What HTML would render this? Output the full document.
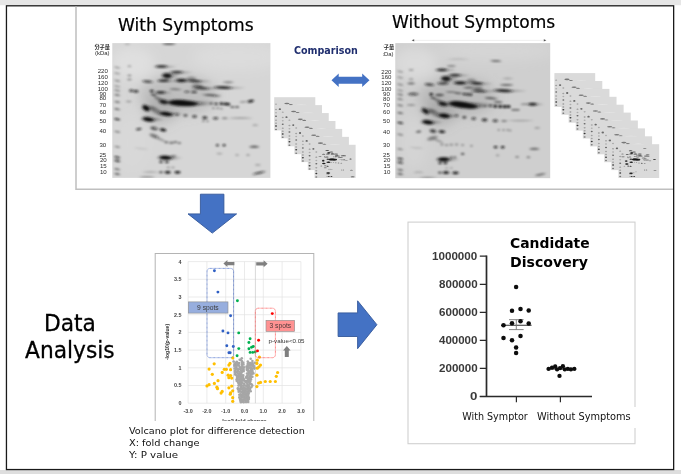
<!DOCTYPE html><html lang="en"><head><meta charset="utf-8"><title>2D gel comparison and data analysis workflow</title>
<style>
html,body{margin:0;padding:0;background:#fff;}
body{width:681px;height:474px;overflow:hidden;position:relative;font-family:"DejaVu Sans","Liberation Sans",sans-serif;color:#000;}
.abs{position:absolute;display:block;}
.t{position:absolute;white-space:nowrap;line-height:1;transform-origin:0 0;}
.lab{font-family:"Liberation Sans","Noto Sans CJK JP",sans-serif;font-size:6.1px;line-height:1;color:#2c2c2c;white-space:nowrap;overflow:hidden;filter:blur(.4px)}
.lab div{line-height:1}
.ax{font-family:"Liberation Sans",sans-serif;font-weight:bold;color:#383838;}
</style></head><body>
<svg class="abs" style="left:0;top:0" width="681" height="474" viewBox="0 0 681 474">
<rect x="0" y="0" width="681" height="5.2" fill="#e6e6e6"/>
<rect x="0" y="470" width="681" height="4" fill="#dedede"/>
<rect x="6.45" y="5.8" width="667.2" height="463.75" fill="#fff" stroke="#1a1a1a" stroke-width="1.3"/>
<path d="M76 6.4V189.3H673" fill="none" stroke="#bfbfbf" stroke-width="1.5"/>
</svg>
<div class="t" style="left:117.54px;top:17.41px;font-size:17px;transform:scaleX(1.0066);-webkit-text-stroke:.2px #000;">With Symptoms</div>
<div class="t" style="left:391.95px;top:14.01px;font-size:17px;transform:scaleX(1.0040);-webkit-text-stroke:.2px #000;">Without Symptoms</div>
<div class="t" style="left:294.22px;top:45.67px;font-size:10.2px;font-weight:bold;color:#1f2e6e;transform:scaleX(0.9374);filter:blur(.3px);">Comparison</div>
<svg class="abs" style="left:0;top:0" width="681" height="474" viewBox="0 0 681 474"><g transform="translate(112.30 43.10)"><defs><filter id="bL" x="-20%" y="-20%" width="140%" height="140%"><feGaussianBlur stdDeviation="0.85"/></filter><filter id="cL" x="-30%" y="-30%" width="160%" height="160%"><feGaussianBlur stdDeviation="6"/></filter><radialGradient id="gL"><stop offset="0" stop-color="#0c0c0c" stop-opacity="1"/><stop offset=".45" stop-color="#0c0c0c" stop-opacity=".9"/><stop offset=".75" stop-color="#141414" stop-opacity=".45"/><stop offset="1" stop-color="#1c1c1c" stop-opacity="0"/></radialGradient><clipPath id="kL"><rect x="0" y="0" width="158.1" height="134.8"/></clipPath></defs><rect x="0" y="0" width="158.1" height="134.8" fill="#d6d6d6"/><g clip-path="url(#kL)"><g filter="url(#cL)"><ellipse cx="66" cy="52" rx="40" ry="20" fill="#8c8c8c" opacity=".3"/><ellipse cx="48" cy="68" rx="16" ry="14" fill="#7c7c7c" opacity=".28"/><ellipse cx="125" cy="14" rx="45" ry="14" fill="#f0f0f0" opacity=".22"/><ellipse cx="20" cy="20" rx="22" ry="16" fill="#f0f0f0" opacity=".35"/><ellipse cx="20" cy="100" rx="16" ry="26" fill="#f0f0f0" opacity=".1"/></g><g filter="url(#bL)" fill="url(#gL)"><ellipse cx="52.2" cy="23.6" rx="13.2" ry="1.7" opacity=".22"/><ellipse cx="57.3" cy="32.8" rx="10.5" ry="3.0" opacity=".22"/><ellipse cx="67.7" cy="29.3" rx="13.7" ry="1.7" opacity=".22"/><ellipse cx="54.4" cy="37.8" rx="12.6" ry="1.7" opacity=".22"/><ellipse cx="72.1" cy="37.6" rx="12.6" ry="2.0" opacity=".22"/><ellipse cx="86.1" cy="38.2" rx="14.7" ry="1.6" opacity=".22"/><ellipse cx="93.0" cy="45.3" rx="17.9" ry="1.5" opacity=".22"/><ellipse cx="115.6" cy="44.7" rx="18.9" ry="1.7" opacity=".22"/><ellipse cx="50.8" cy="49.5" rx="10.5" ry="1.7" opacity=".22"/><ellipse cx="77.4" cy="60.2" rx="30.5" ry="3.5" opacity=".22"/><ellipse cx="72.1" cy="59.9" rx="21.0" ry="3.0" opacity=".22"/><ellipse cx="67.1" cy="59.7" rx="12.6" ry="2.5" opacity=".22"/><ellipse cx="81.6" cy="60.9" rx="14.7" ry="2.5" opacity=".22"/><ellipse cx="53.5" cy="59.0" rx="9.5" ry="2.6" opacity=".22"/><ellipse cx="35.7" cy="65.1" rx="8.8" ry="3.0" opacity=".22"/><ellipse cx="57.2" cy="71.0" rx="14.7" ry="2.5" opacity=".22"/><ellipse cx="56.9" cy="71.1" rx="9.5" ry="1.7" opacity=".22"/><ellipse cx="39.0" cy="76.4" rx="13.0" ry="2.6" opacity=".22"/><ellipse cx="38.2" cy="76.5" rx="8.8" ry="1.8" opacity=".22"/><ellipse cx="56.5" cy="114.8" rx="14.3" ry="2.5" opacity=".22"/><ellipse cx="55.4" cy="114.9" rx="9.5" ry="1.7" opacity=".22"/><ellipse cx="49.1" cy="23.4" rx="7.9" ry="1.9" opacity="0.85"/><ellipse cx="54.8" cy="32.6" rx="6.3" ry="3.5" opacity="1" transform="rotate(5 54.8 32.6)"/><ellipse cx="64.4" cy="29.1" rx="8.1" ry="1.9" opacity="0.8"/><ellipse cx="51.4" cy="37.6" rx="7.5" ry="1.9" opacity="0.85"/><ellipse cx="69.1" cy="37.4" rx="7.5" ry="2.4" opacity="0.95"/><ellipse cx="35.3" cy="38.5" rx="6.9" ry="1.9" opacity="0.7" transform="rotate(5 35.3 38.5)"/><ellipse cx="82.6" cy="38.0" rx="8.7" ry="1.8" opacity="0.8" transform="rotate(3 82.6 38.0)"/><ellipse cx="79.1" cy="35.7" rx="6.3" ry="3.0" opacity="0.3"/><ellipse cx="85.1" cy="42.7" rx="7.5" ry="1.5" opacity="0.55" transform="rotate(3 85.1 42.7)"/><ellipse cx="88.7" cy="45.1" rx="10.5" ry="1.7" opacity="0.8" transform="rotate(3 88.7 45.1)"/><ellipse cx="111.1" cy="44.5" rx="11.1" ry="2.0" opacity="0.9" transform="rotate(3 111.1 44.5)"/><ellipse cx="115.9" cy="39.2" rx="6.9" ry="1.6" opacity="0.35"/><ellipse cx="19.0" cy="47.6" rx="3.2" ry="2.0" opacity="0.7"/><ellipse cx="23.7" cy="48.2" rx="3.4" ry="2.0" opacity="0.8"/><ellipse cx="39.5" cy="47.9" rx="2.9" ry="1.8" opacity="0.85"/><ellipse cx="48.3" cy="49.3" rx="6.3" ry="1.9" opacity="0.85"/><ellipse cx="41.2" cy="51.7" rx="3.9" ry="1.5" opacity="0.6" transform="rotate(10 41.2 51.7)"/><ellipse cx="80.5" cy="49.0" rx="2.1" ry="1.5" opacity="0.8"/><ellipse cx="83.1" cy="49.0" rx="2.1" ry="1.5" opacity="0.8"/><ellipse cx="74.6" cy="48.6" rx="3.9" ry="1.4" opacity="0.6"/><ellipse cx="63.1" cy="46.2" rx="7.5" ry="1.4" opacity="0.4" transform="rotate(3 63.1 46.2)"/><ellipse cx="99.4" cy="52.2" rx="11.1" ry="1.5" opacity="0.6" transform="rotate(4 99.4 52.2)"/><ellipse cx="70.1" cy="60.0" rx="17.7" ry="4.2" opacity="1" transform="rotate(3 70.1 60.0)"/><ellipse cx="67.1" cy="59.7" rx="12.3" ry="3.5" opacity="1" transform="rotate(3 67.1 59.7)"/><ellipse cx="64.1" cy="59.5" rx="7.5" ry="2.9" opacity="1"/><ellipse cx="78.1" cy="60.7" rx="8.7" ry="2.9" opacity="0.9"/><ellipse cx="51.3" cy="58.8" rx="5.7" ry="3.1" opacity="0.95" transform="rotate(10 51.3 58.8)"/><ellipse cx="46.1" cy="55.7" rx="6.3" ry="2.5" opacity="0.35" transform="rotate(25 46.1 55.7)"/><ellipse cx="33.6" cy="64.9" rx="5.3" ry="3.5" opacity="1" transform="rotate(38 33.6 64.9)"/><ellipse cx="34.1" cy="65.2" rx="3.9" ry="2.7" opacity="1" transform="rotate(38 34.1 65.2)"/><ellipse cx="53.7" cy="70.8" rx="8.7" ry="2.9" opacity="1" transform="rotate(8 53.7 70.8)"/><ellipse cx="54.6" cy="70.9" rx="5.7" ry="2.0" opacity="1" transform="rotate(8 54.6 70.9)"/><ellipse cx="35.9" cy="76.2" rx="7.7" ry="3.1" opacity="1" transform="rotate(10 35.9 76.2)"/><ellipse cx="36.1" cy="76.3" rx="5.3" ry="2.1" opacity="1" transform="rotate(10 36.1 76.3)"/><ellipse cx="43.1" cy="67.2" rx="9.9" ry="3.5" opacity="0.35" transform="rotate(30 43.1 67.2)"/><ellipse cx="98.8" cy="60.4" rx="2.2" ry="1.6" opacity="0.5"/><ellipse cx="103.9" cy="60.8" rx="2.5" ry="1.7" opacity="0.8"/><ellipse cx="109.1" cy="60.6" rx="2.7" ry="1.9" opacity="0.95"/><ellipse cx="113.0" cy="60.8" rx="2.7" ry="1.9" opacity="1"/><ellipse cx="115.9" cy="61.1" rx="2.7" ry="1.9" opacity="1"/><ellipse cx="138.4" cy="58.1" rx="4.4" ry="1.9" opacity="0.95" transform="rotate(-10 138.4 58.1)"/><ellipse cx="131.1" cy="58.7" rx="5.1" ry="1.3" opacity="0.3" transform="rotate(-5 131.1 58.7)"/><ellipse cx="120.1" cy="64.0" rx="2.9" ry="1.4" opacity="0.55"/><ellipse cx="124.8" cy="64.0" rx="2.9" ry="1.4" opacity="0.55"/><ellipse cx="101.1" cy="65.2" rx="2.1" ry="1.3" opacity="0.35"/><ellipse cx="105.5" cy="65.2" rx="2.1" ry="1.3" opacity="0.4"/><ellipse cx="109.1" cy="65.5" rx="2.1" ry="1.3" opacity="0.35"/><ellipse cx="64.9" cy="71.4" rx="2.7" ry="1.9" opacity="0.5"/><ellipse cx="73.2" cy="72.3" rx="2.9" ry="2.0" opacity="0.55"/><ellipse cx="82.2" cy="73.4" rx="3.2" ry="2.1" opacity="0.7"/><ellipse cx="92.5" cy="74.6" rx="3.4" ry="2.0" opacity="0.85"/><ellipse cx="103.3" cy="75.2" rx="3.7" ry="1.8" opacity="0.7"/><ellipse cx="112.4" cy="75.2" rx="3.9" ry="1.4" opacity="0.4"/><ellipse cx="128.1" cy="75.0" rx="14.7" ry="1.2" opacity="0.25"/><ellipse cx="91.1" cy="77.9" rx="1.7" ry="1.3" opacity="0.4"/><ellipse cx="95.2" cy="78.2" rx="1.7" ry="1.3" opacity="0.4"/><ellipse cx="142.9" cy="82.1" rx="3.9" ry="1.2" opacity="0.25"/><ellipse cx="26.5" cy="86.0" rx="3.9" ry="1.7" opacity="0.75" transform="rotate(-8 26.5 86.0)"/><ellipse cx="41.8" cy="85.3" rx="5.1" ry="2.5" opacity="0.6" transform="rotate(10 41.8 85.3)"/><ellipse cx="50.7" cy="86.8" rx="4.4" ry="2.1" opacity="1" transform="rotate(10 50.7 86.8)"/><ellipse cx="41.8" cy="92.9" rx="6.3" ry="2.7" opacity="0.45" transform="rotate(20 41.8 92.9)"/><ellipse cx="48.1" cy="96.2" rx="7.5" ry="1.9" opacity="0.25" transform="rotate(25 48.1 96.2)"/><ellipse cx="54.1" cy="99.2" rx="2.7" ry="1.6" opacity="0.45"/><ellipse cx="59.1" cy="99.7" rx="3.3" ry="1.7" opacity="0.45"/><ellipse cx="63.1" cy="99.0" rx="2.7" ry="1.6" opacity="0.45"/><ellipse cx="67.1" cy="100.0" rx="2.5" ry="1.4" opacity="0.45"/><ellipse cx="28.8" cy="105.5" rx="8.7" ry="1.3" opacity="0.1" transform="rotate(5 28.8 105.5)"/><ellipse cx="105.1" cy="102.2" rx="2.3" ry="1.5" opacity="0.85"/><ellipse cx="111.8" cy="102.2" rx="2.3" ry="1.5" opacity="0.9"/><ellipse cx="141.9" cy="103.7" rx="6.3" ry="1.7" opacity="0.55"/><ellipse cx="124.8" cy="112.0" rx="2.7" ry="1.4" opacity="0.22"/><ellipse cx="135.7" cy="112.0" rx="2.7" ry="1.4" opacity="0.25"/><ellipse cx="107.1" cy="110.5" rx="3.9" ry="1.3" opacity="0.25"/><ellipse cx="53.1" cy="114.6" rx="8.5" ry="2.9" opacity="1" transform="rotate(3 53.1 114.6)"/><ellipse cx="53.1" cy="114.7" rx="5.7" ry="2.0" opacity="1" transform="rotate(3 53.1 114.7)"/><ellipse cx="48.7" cy="118.8" rx="2.7" ry="1.6" opacity="0.8"/><ellipse cx="54.6" cy="118.9" rx="2.7" ry="1.6" opacity="0.85"/><ellipse cx="61.1" cy="112.7" rx="3.9" ry="1.3" opacity="0.4"/><ellipse cx="56.0" cy="124.4" rx="2.5" ry="1.3" opacity="0.3"/><ellipse cx="60.7" cy="124.4" rx="2.5" ry="1.3" opacity="0.3"/><ellipse cx="55.4" cy="129.2" rx="4.1" ry="1.9" opacity="1"/><ellipse cx="65.2" cy="129.2" rx="4.1" ry="1.8" opacity="1"/><ellipse cx="48.7" cy="129.2" rx="2.9" ry="1.5" opacity="0.6"/><ellipse cx="38.1" cy="129.0" rx="9.9" ry="1.2" opacity="0.2"/><ellipse cx="146.7" cy="129.8" rx="8.1" ry="1.5" opacity="0.75" transform="rotate(-12 146.7 129.8)"/><ellipse cx="145.5" cy="121.8" rx="3.9" ry="1.2" opacity="0.25"/><ellipse cx="17.1" cy="23.2" rx="2.7" ry="1.3" opacity="0.3"/><ellipse cx="17.1" cy="32.4" rx="2.9" ry="1.3" opacity="0.4"/><ellipse cx="17.1" cy="36.4" rx="3.2" ry="1.3" opacity="0.4"/><ellipse cx="16.4" cy="58.4" rx="3.9" ry="1.3" opacity="0.3"/><ellipse cx="56.6" cy="0.8" rx="8.7" ry="1.3" opacity="0.6"/><ellipse cx="15.1" cy="1.0" rx="3.9" ry="1.1" opacity="0.2"/><ellipse cx="34.7" cy="134.0" rx="9.9" ry="1.3" opacity="0.3"/><ellipse cx="4.9" cy="24.4" rx="4.0" ry="1.25" opacity="0.32" transform="rotate(10 4.9 24.4)"/><ellipse cx="4.9" cy="30.3" rx="4.0" ry="1.25" opacity="0.32" transform="rotate(10 4.9 30.3)"/><ellipse cx="4.9" cy="37.6" rx="4.0" ry="1.25" opacity="0.37" transform="rotate(10 4.9 37.6)"/><ellipse cx="4.9" cy="43.3" rx="4.0" ry="1.25" opacity="0.32" transform="rotate(10 4.9 43.3)"/><ellipse cx="4.9" cy="47.4" rx="4.0" ry="1.25" opacity="0.42" transform="rotate(10 4.9 47.4)"/><ellipse cx="4.9" cy="51.9" rx="4.0" ry="1.25" opacity="0.47" transform="rotate(10 4.9 51.9)"/><ellipse cx="4.9" cy="58.8" rx="4.0" ry="1.25" opacity="0.47" transform="rotate(10 4.9 58.8)"/><ellipse cx="4.9" cy="66.1" rx="4.0" ry="1.25" opacity="0.53" transform="rotate(10 4.9 66.1)"/><ellipse cx="4.9" cy="76.2" rx="4.0" ry="1.25" opacity="0.95" transform="rotate(10 4.9 76.2)"/><ellipse cx="4.9" cy="88.6" rx="4.0" ry="1.25" opacity="0.42" transform="rotate(10 4.9 88.6)"/><ellipse cx="4.9" cy="103.7" rx="4.0" ry="1.25" opacity="0.37" transform="rotate(10 4.9 103.7)"/><ellipse cx="4.9" cy="114.2" rx="4.0" ry="1.25" opacity="0.89" transform="rotate(10 4.9 114.2)"/><ellipse cx="4.9" cy="117.7" rx="4.0" ry="1.25" opacity="0.95" transform="rotate(10 4.9 117.7)"/><ellipse cx="4.9" cy="126.2" rx="4.0" ry="1.25" opacity="0.53" transform="rotate(10 4.9 126.2)"/><ellipse cx="4.9" cy="130.9" rx="4.0" ry="1.25" opacity="0.58" transform="rotate(10 4.9 130.9)"/></g></g></g></svg>
<svg class="abs" style="left:0;top:0" width="681" height="474" viewBox="0 0 681 474"><g transform="translate(395.30 43.10)"><defs><filter id="bR" x="-20%" y="-20%" width="140%" height="140%"><feGaussianBlur stdDeviation="0.85"/></filter><filter id="cR" x="-30%" y="-30%" width="160%" height="160%"><feGaussianBlur stdDeviation="6"/></filter><radialGradient id="gR"><stop offset="0" stop-color="#0c0c0c" stop-opacity="1"/><stop offset=".45" stop-color="#0c0c0c" stop-opacity=".9"/><stop offset=".75" stop-color="#141414" stop-opacity=".45"/><stop offset="1" stop-color="#1c1c1c" stop-opacity="0"/></radialGradient><clipPath id="kR"><rect x="0" y="0" width="154.9" height="135.1"/></clipPath></defs><rect x="0" y="0" width="154.9" height="135.1" fill="#cfcfcf"/><g clip-path="url(#kR)"><g filter="url(#cR)"><ellipse cx="62" cy="54" rx="40" ry="20" fill="#8c8c8c" opacity=".3"/><ellipse cx="44" cy="70" rx="16" ry="14" fill="#7c7c7c" opacity=".28"/><ellipse cx="100" cy="8" rx="60" ry="10" fill="#f0f0f0" opacity=".2"/><ellipse cx="20" cy="20" rx="22" ry="16" fill="#f0f0f0" opacity=".35"/><ellipse cx="18" cy="100" rx="14" ry="26" fill="#f0f0f0" opacity=".15"/></g><g filter="url(#bR)" fill="url(#gR)"><ellipse cx="49.5" cy="27.0" rx="12.2" ry="1.7" opacity=".22"/><ellipse cx="53.2" cy="35.8" rx="10.5" ry="3.0" opacity=".22"/><ellipse cx="62.7" cy="32.3" rx="13.0" ry="1.7" opacity=".22"/><ellipse cx="68.2" cy="40.0" rx="13.7" ry="1.9" opacity=".22"/><ellipse cx="84.8" cy="40.5" rx="13.7" ry="1.7" opacity=".22"/><ellipse cx="87.7" cy="48.2" rx="15.8" ry="1.5" opacity=".22"/><ellipse cx="113.0" cy="47.8" rx="19.9" ry="1.9" opacity=".22"/><ellipse cx="74.6" cy="62.0" rx="29.4" ry="3.6" opacity=".22"/><ellipse cx="69.6" cy="61.6" rx="21.0" ry="3.1" opacity=".22"/><ellipse cx="64.1" cy="61.0" rx="12.6" ry="2.5" opacity=".22"/><ellipse cx="78.6" cy="63.4" rx="14.7" ry="2.5" opacity=".22"/><ellipse cx="50.1" cy="61.0" rx="10.1" ry="2.6" opacity=".22"/><ellipse cx="32.3" cy="68.1" rx="9.7" ry="2.8" opacity=".22"/><ellipse cx="51.9" cy="72.8" rx="12.6" ry="2.7" opacity=".22"/><ellipse cx="51.4" cy="72.9" rx="8.4" ry="1.8" opacity=".22"/><ellipse cx="35.4" cy="79.3" rx="12.6" ry="2.5" opacity=".22"/><ellipse cx="34.6" cy="79.4" rx="8.4" ry="1.7" opacity=".22"/><ellipse cx="139.6" cy="61.3" rx="10.1" ry="1.7" opacity=".22"/><ellipse cx="51.5" cy="116.4" rx="13.4" ry="2.5" opacity=".22"/><ellipse cx="50.4" cy="116.5" rx="8.8" ry="1.7" opacity=".22"/><ellipse cx="46.6" cy="26.8" rx="7.3" ry="1.9" opacity="0.9"/><ellipse cx="56.0" cy="23.0" rx="5.7" ry="1.5" opacity="0.35"/><ellipse cx="63.1" cy="16.1" rx="13.5" ry="1.2" opacity="0.12"/><ellipse cx="50.7" cy="35.6" rx="6.3" ry="3.5" opacity="1" transform="rotate(5 50.7 35.6)"/><ellipse cx="59.6" cy="32.1" rx="7.7" ry="1.9" opacity="0.85"/><ellipse cx="64.9" cy="39.8" rx="8.1" ry="2.2" opacity="1"/><ellipse cx="47.7" cy="40.3" rx="7.5" ry="1.9" opacity="0.75"/><ellipse cx="34.1" cy="41.5" rx="6.3" ry="1.8" opacity="0.75" transform="rotate(5 34.1 41.5)"/><ellipse cx="15.8" cy="26.8" rx="3.3" ry="1.3" opacity="0.3"/><ellipse cx="15.8" cy="36.2" rx="3.3" ry="1.3" opacity="0.3"/><ellipse cx="15.8" cy="40.3" rx="5.1" ry="1.5" opacity="0.5"/><ellipse cx="17.9" cy="51.0" rx="6.9" ry="2.2" opacity="0.6"/><ellipse cx="35.9" cy="51.2" rx="2.5" ry="1.9" opacity="1"/><ellipse cx="44.2" cy="51.9" rx="5.7" ry="1.8" opacity="0.6"/><ellipse cx="37.7" cy="54.9" rx="3.7" ry="1.5" opacity="0.55" transform="rotate(10 37.7 54.9)"/><ellipse cx="69.0" cy="51.0" rx="2.2" ry="1.7" opacity="0.9"/><ellipse cx="72.4" cy="51.3" rx="2.2" ry="1.7" opacity="0.95"/><ellipse cx="75.5" cy="51.5" rx="2.2" ry="1.7" opacity="0.95"/><ellipse cx="63.1" cy="50.2" rx="5.1" ry="1.4" opacity="0.5" transform="rotate(3 63.1 50.2)"/><ellipse cx="73.7" cy="44.5" rx="7.5" ry="1.5" opacity="0.5"/><ellipse cx="56.0" cy="49.0" rx="7.5" ry="1.4" opacity="0.35" transform="rotate(3 56.0 49.0)"/><ellipse cx="81.6" cy="40.3" rx="8.1" ry="2.0" opacity="0.9" transform="rotate(3 81.6 40.3)"/><ellipse cx="76.1" cy="37.7" rx="6.3" ry="3.0" opacity="0.3"/><ellipse cx="82.8" cy="45.1" rx="6.3" ry="1.4" opacity="0.55"/><ellipse cx="84.0" cy="48.0" rx="9.3" ry="1.7" opacity="0.85" transform="rotate(3 84.0 48.0)"/><ellipse cx="100.6" cy="17.9" rx="6.9" ry="1.4" opacity="0.5" transform="rotate(3 100.6 17.9)"/><ellipse cx="112.4" cy="35.4" rx="6.9" ry="1.4" opacity="0.2"/><ellipse cx="111.2" cy="41.9" rx="8.1" ry="1.6" opacity="0.5"/><ellipse cx="108.2" cy="47.6" rx="11.7" ry="2.2" opacity="0.9" transform="rotate(3 108.2 47.6)"/><ellipse cx="95.8" cy="55.2" rx="8.1" ry="1.4" opacity="0.6" transform="rotate(4 95.8 55.2)"/><ellipse cx="102.9" cy="59.0" rx="5.7" ry="1.6" opacity="0.5" transform="rotate(3 102.9 59.0)"/><ellipse cx="67.6" cy="61.8" rx="17.1" ry="4.3" opacity="1" transform="rotate(8 67.6 61.8)"/><ellipse cx="64.6" cy="61.4" rx="12.3" ry="3.6" opacity="1" transform="rotate(8 64.6 61.4)"/><ellipse cx="61.1" cy="60.8" rx="7.5" ry="2.9" opacity="1" transform="rotate(5 61.1 60.8)"/><ellipse cx="75.1" cy="63.2" rx="8.7" ry="2.9" opacity="0.95" transform="rotate(5 75.1 63.2)"/><ellipse cx="47.7" cy="60.8" rx="6.1" ry="3.1" opacity="0.95" transform="rotate(10 47.7 60.8)"/><ellipse cx="43.1" cy="57.7" rx="6.3" ry="2.5" opacity="0.35" transform="rotate(25 43.1 57.7)"/><ellipse cx="30.0" cy="67.9" rx="5.8" ry="3.3" opacity="0.8" transform="rotate(40 30.0 67.9)"/><ellipse cx="30.4" cy="68.2" rx="3.9" ry="2.2" opacity="0.7" transform="rotate(40 30.4 68.2)"/><ellipse cx="48.9" cy="72.6" rx="7.5" ry="3.2" opacity="1" transform="rotate(8 48.9 72.6)"/><ellipse cx="49.4" cy="72.7" rx="5.1" ry="2.1" opacity="1" transform="rotate(8 49.4 72.7)"/><ellipse cx="32.4" cy="79.1" rx="7.5" ry="3.0" opacity="1" transform="rotate(8 32.4 79.1)"/><ellipse cx="32.6" cy="79.2" rx="5.1" ry="2.0" opacity="1" transform="rotate(8 32.6 79.2)"/><ellipse cx="39.1" cy="69.7" rx="9.9" ry="3.5" opacity="0.35" transform="rotate(30 39.1 69.7)"/><ellipse cx="15.8" cy="62.0" rx="5.7" ry="1.3" opacity="0.3"/><ellipse cx="89.9" cy="62.8" rx="2.1" ry="1.5" opacity="0.4"/><ellipse cx="95.2" cy="62.8" rx="2.5" ry="1.8" opacity="0.7"/><ellipse cx="100.0" cy="63.2" rx="2.7" ry="2.0" opacity="1"/><ellipse cx="104.9" cy="63.4" rx="2.8" ry="2.1" opacity="1"/><ellipse cx="109.4" cy="63.5" rx="2.8" ry="2.1" opacity="1"/><ellipse cx="113.2" cy="63.5" rx="2.7" ry="2.0" opacity="1"/><ellipse cx="137.2" cy="61.1" rx="6.1" ry="2.0" opacity="0.95"/><ellipse cx="129.1" cy="61.2" rx="5.1" ry="1.3" opacity="0.35"/><ellipse cx="118.3" cy="66.7" rx="3.3" ry="1.3" opacity="0.5"/><ellipse cx="122.1" cy="66.7" rx="3.3" ry="1.3" opacity="0.5"/><ellipse cx="61.3" cy="72.6" rx="2.7" ry="1.9" opacity="0.55"/><ellipse cx="69.0" cy="74.2" rx="2.9" ry="2.0" opacity="0.6"/><ellipse cx="78.4" cy="75.5" rx="3.2" ry="2.1" opacity="0.65"/><ellipse cx="89.3" cy="76.8" rx="3.9" ry="2.2" opacity="0.8"/><ellipse cx="100.0" cy="77.7" rx="3.7" ry="2.0" opacity="0.7"/><ellipse cx="108.8" cy="77.9" rx="3.9" ry="1.4" opacity="0.4"/><ellipse cx="125.1" cy="77.5" rx="14.7" ry="1.2" opacity="0.25"/><ellipse cx="103.5" cy="86.8" rx="1.9" ry="1.4" opacity="0.3"/><ellipse cx="108.2" cy="87.0" rx="1.9" ry="1.4" opacity="0.3"/><ellipse cx="112.4" cy="87.0" rx="1.9" ry="1.4" opacity="0.3"/><ellipse cx="115.0" cy="87.4" rx="1.9" ry="1.4" opacity="0.3"/><ellipse cx="141.9" cy="84.8" rx="3.9" ry="1.2" opacity="0.25"/><ellipse cx="23.3" cy="88.6" rx="3.7" ry="1.7" opacity="0.5" transform="rotate(-8 23.3 88.6)"/><ellipse cx="37.7" cy="88.0" rx="4.4" ry="2.4" opacity="0.8" transform="rotate(10 37.7 88.0)"/><ellipse cx="46.6" cy="88.6" rx="4.4" ry="2.0" opacity="0.95" transform="rotate(5 46.6 88.6)"/><ellipse cx="37.1" cy="95.1" rx="6.9" ry="2.7" opacity="0.4" transform="rotate(-15 37.1 95.1)"/><ellipse cx="43.1" cy="97.7" rx="6.3" ry="1.7" opacity="0.25" transform="rotate(20 43.1 97.7)"/><ellipse cx="46.6" cy="101.4" rx="2.5" ry="1.6" opacity="0.3"/><ellipse cx="51.3" cy="102.0" rx="2.5" ry="1.6" opacity="0.3"/><ellipse cx="56.0" cy="101.6" rx="2.5" ry="1.6" opacity="0.3"/><ellipse cx="61.3" cy="101.4" rx="2.5" ry="1.6" opacity="0.3"/><ellipse cx="67.3" cy="102.0" rx="2.2" ry="1.5" opacity="0.3"/><ellipse cx="76.1" cy="102.7" rx="2.1" ry="1.4" opacity="0.3"/><ellipse cx="67.3" cy="110.8" rx="2.5" ry="1.6" opacity="0.6"/><ellipse cx="56.0" cy="114.2" rx="2.2" ry="1.5" opacity="0.45"/><ellipse cx="59.6" cy="114.2" rx="2.2" ry="1.5" opacity="0.45"/><ellipse cx="100.3" cy="104.0" rx="2.7" ry="1.7" opacity="0.9"/><ellipse cx="107.4" cy="104.1" rx="2.7" ry="1.7" opacity="0.95"/><ellipse cx="139.0" cy="105.8" rx="6.3" ry="1.7" opacity="0.5"/><ellipse cx="121.8" cy="113.8" rx="2.7" ry="1.4" opacity="0.35"/><ellipse cx="133.1" cy="114.2" rx="2.7" ry="1.4" opacity="0.4"/><ellipse cx="102.3" cy="112.3" rx="2.7" ry="1.4" opacity="0.25"/><ellipse cx="48.3" cy="116.2" rx="8.0" ry="2.9" opacity="1"/><ellipse cx="48.3" cy="116.3" rx="5.3" ry="2.0" opacity="1"/><ellipse cx="44.8" cy="119.9" rx="2.7" ry="1.7" opacity="0.8"/><ellipse cx="50.1" cy="119.9" rx="2.7" ry="1.7" opacity="0.85"/><ellipse cx="51.3" cy="125.0" rx="2.2" ry="1.3" opacity="0.2"/><ellipse cx="56.0" cy="125.0" rx="2.2" ry="1.3" opacity="0.2"/><ellipse cx="50.7" cy="129.5" rx="4.3" ry="1.9" opacity="1"/><ellipse cx="60.2" cy="129.8" rx="4.3" ry="1.8" opacity="1"/><ellipse cx="44.6" cy="129.5" rx="2.9" ry="1.5" opacity="0.6"/><ellipse cx="23.1" cy="129.2" rx="6.3" ry="1.2" opacity="0.2"/><ellipse cx="144.9" cy="131.5" rx="6.9" ry="1.4" opacity="0.5" transform="rotate(-10 144.9 131.5)"/><ellipse cx="32.4" cy="134.5" rx="9.9" ry="1.3" opacity="0.3"/><ellipse cx="21.1" cy="104.7" rx="8.7" ry="1.3" opacity="0.12" transform="rotate(5 21.1 104.7)"/><ellipse cx="4.9" cy="28.5" rx="4.0" ry="1.25" opacity="0.32" transform="rotate(10 4.9 28.5)"/><ellipse cx="4.9" cy="34.4" rx="4.0" ry="1.25" opacity="0.32" transform="rotate(10 4.9 34.4)"/><ellipse cx="4.9" cy="41.5" rx="4.0" ry="1.25" opacity="0.37" transform="rotate(10 4.9 41.5)"/><ellipse cx="4.9" cy="47.4" rx="4.0" ry="1.25" opacity="0.32" transform="rotate(10 4.9 47.4)"/><ellipse cx="4.9" cy="51.5" rx="4.0" ry="1.25" opacity="0.47" transform="rotate(10 4.9 51.5)"/><ellipse cx="4.9" cy="56.1" rx="4.0" ry="1.25" opacity="0.42" transform="rotate(10 4.9 56.1)"/><ellipse cx="4.9" cy="62.3" rx="4.0" ry="1.25" opacity="0.47" transform="rotate(10 4.9 62.3)"/><ellipse cx="4.9" cy="69.9" rx="4.0" ry="1.25" opacity="0.53" transform="rotate(10 4.9 69.9)"/><ellipse cx="4.9" cy="79.7" rx="4.0" ry="1.25" opacity="0.95" transform="rotate(10 4.9 79.7)"/><ellipse cx="4.9" cy="91.5" rx="4.0" ry="1.25" opacity="0.42" transform="rotate(10 4.9 91.5)"/><ellipse cx="4.9" cy="106.1" rx="4.0" ry="1.25" opacity="0.37" transform="rotate(10 4.9 106.1)"/><ellipse cx="4.9" cy="115.6" rx="4.0" ry="1.25" opacity="0.89" transform="rotate(10 4.9 115.6)"/><ellipse cx="4.9" cy="119.4" rx="4.0" ry="1.25" opacity="0.95" transform="rotate(10 4.9 119.4)"/><ellipse cx="4.9" cy="126.8" rx="4.0" ry="1.25" opacity="0.53" transform="rotate(10 4.9 126.8)"/><ellipse cx="4.9" cy="130.9" rx="4.0" ry="1.25" opacity="0.58" transform="rotate(10 4.9 130.9)"/></g></g></g></svg>
<svg class="abs" style="left:0;top:0" width="681" height="474" viewBox="0 0 681 474" font-family="Liberation Sans, Noto Sans CJK JP, sans-serif" fill="#2c2c2c">
<defs><filter id="lb" x="-10%" y="-10%" width="120%" height="120%"><feGaussianBlur stdDeviation="0.4"/></filter><clipPath id="lc"><rect x="383.4" y="40" width="12" height="20"/></clipPath></defs>
<g filter="url(#lb)">
<g>
<text x="110.0" y="49.1" font-size="5.2" font-weight="bold" text-anchor="end">分子量</text>
<text x="109.4" y="55.1" font-size="5.9" text-anchor="end">(kDa)</text>
</g>
<text x="102.8" y="73.4" font-size="6.1" text-anchor="middle">220</text>
<text x="102.8" y="79.2" font-size="6.1" text-anchor="middle">160</text>
<text x="102.8" y="84.6" font-size="6.1" text-anchor="middle">120</text>
<text x="102.8" y="90.8" font-size="6.1" text-anchor="middle">100</text>
<text x="102.8" y="95.9" font-size="6.1" text-anchor="middle">90</text>
<text x="102.8" y="100.4" font-size="6.1" text-anchor="middle">80</text>
<text x="102.8" y="106.6" font-size="6.1" text-anchor="middle">70</text>
<text x="102.8" y="113.8" font-size="6.1" text-anchor="middle">60</text>
<text x="102.8" y="122.9" font-size="6.1" text-anchor="middle">50</text>
<text x="102.8" y="133.4" font-size="6.1" text-anchor="middle">40</text>
<text x="102.8" y="147.3" font-size="6.1" text-anchor="middle">30</text>
<text x="102.8" y="156.5" font-size="6.1" text-anchor="middle">25</text>
<text x="103.3" y="162.2" font-size="6.1" text-anchor="middle">20</text>
<text x="103.3" y="168.1" font-size="6.1" text-anchor="middle">15</text>
<text x="103.3" y="174.3" font-size="6.1" text-anchor="middle">10</text>
<g clip-path="url(#lc)">
<text x="394.2" y="48.7" font-size="5.2" font-weight="bold" text-anchor="end">分子量</text>
<text x="393.6" y="55.7" font-size="5.9" text-anchor="end">(kDa)</text>
</g>
<text x="386.4" y="73.5" font-size="6.1" text-anchor="middle">220</text>
<text x="386.4" y="79.3" font-size="6.1" text-anchor="middle">160</text>
<text x="386.4" y="84.7" font-size="6.1" text-anchor="middle">120</text>
<text x="386.4" y="90.9" font-size="6.1" text-anchor="middle">100</text>
<text x="386.4" y="96.0" font-size="6.1" text-anchor="middle">90</text>
<text x="386.4" y="100.5" font-size="6.1" text-anchor="middle">80</text>
<text x="386.4" y="106.7" font-size="6.1" text-anchor="middle">70</text>
<text x="386.4" y="113.9" font-size="6.1" text-anchor="middle">60</text>
<text x="386.4" y="123.0" font-size="6.1" text-anchor="middle">50</text>
<text x="386.4" y="133.5" font-size="6.1" text-anchor="middle">40</text>
<text x="386.4" y="147.4" font-size="6.1" text-anchor="middle">30</text>
<text x="386.4" y="156.6" font-size="6.1" text-anchor="middle">25</text>
<text x="386.9" y="162.3" font-size="6.1" text-anchor="middle">20</text>
<text x="386.9" y="168.2" font-size="6.1" text-anchor="middle">15</text>
<text x="386.9" y="174.4" font-size="6.1" text-anchor="middle">10</text>
</g></svg>
<svg class="abs" style="left:0;top:0" width="681" height="474" viewBox="0 0 681 474"><defs><filter id="ma" x="-10%" y="-10%" width="120%" height="120%"><feGaussianBlur stdDeviation="0.3"/></filter><filter id="na" x="-10%" y="-10%" width="120%" height="120%"><feGaussianBlur stdDeviation="0.4"/></filter></defs><g filter="url(#na)"><g transform="translate(274.20 97.20)"><rect width="41.1" height="33.2" fill="#dadada"/><ellipse cx="27.1" cy="8.5" rx="6" ry="1.2" fill="#eeeeee" opacity=".7"/><g filter="url(#ma)" fill="#1a1a1a"><ellipse cx="5.7" cy="12" rx="1.2" ry="0.9" opacity=".6"/><ellipse cx="12.7" cy="6.3" rx="2.6" ry="0.8" opacity=".5"/><ellipse cx="16.6" cy="7.5" rx="1.9" ry="0.7" opacity=".5"/><ellipse cx="1.8" cy="7.1" rx="1.0" ry="0.75" opacity="0.25"/><ellipse cx="1.8" cy="12.4" rx="1.0" ry="0.75" opacity="0.30"/><ellipse cx="1.8" cy="15.6" rx="1.0" ry="0.75" opacity="0.20"/><ellipse cx="1.8" cy="19.0" rx="1.0" ry="0.75" opacity="0.60"/><ellipse cx="1.8" cy="23.0" rx="1.0" ry="0.75" opacity="0.30"/><ellipse cx="1.8" cy="26.0" rx="1.0" ry="0.75" opacity="0.30"/><ellipse cx="1.8" cy="28.8" rx="1.0" ry="0.75" opacity="0.85"/><ellipse cx="1.8" cy="32.2" rx="1.0" ry="0.75" opacity="0.50"/></g></g><g transform="translate(280.92 105.13)"><rect width="41.1" height="33.2" fill="#dadada"/><ellipse cx="27.1" cy="8.5" rx="6" ry="1.2" fill="#eeeeee" opacity=".7"/><g filter="url(#ma)" fill="#1a1a1a"><ellipse cx="5.7" cy="12" rx="1.2" ry="0.9" opacity=".6"/><ellipse cx="12.7" cy="6.3" rx="2.6" ry="0.8" opacity=".5"/><ellipse cx="16.6" cy="7.5" rx="1.9" ry="0.7" opacity=".5"/><ellipse cx="1.8" cy="7.1" rx="1.0" ry="0.75" opacity="0.25"/><ellipse cx="1.8" cy="12.4" rx="1.0" ry="0.75" opacity="0.30"/><ellipse cx="1.8" cy="15.6" rx="1.0" ry="0.75" opacity="0.20"/><ellipse cx="1.8" cy="19.0" rx="1.0" ry="0.75" opacity="0.60"/><ellipse cx="1.8" cy="23.0" rx="1.0" ry="0.75" opacity="0.30"/><ellipse cx="1.8" cy="26.0" rx="1.0" ry="0.75" opacity="0.30"/><ellipse cx="1.8" cy="28.8" rx="1.0" ry="0.75" opacity="0.85"/><ellipse cx="1.8" cy="32.2" rx="1.0" ry="0.75" opacity="0.50"/></g></g><g transform="translate(287.64 113.06)"><rect width="41.1" height="33.2" fill="#dadada"/><ellipse cx="27.1" cy="8.5" rx="6" ry="1.2" fill="#eeeeee" opacity=".7"/><g filter="url(#ma)" fill="#1a1a1a"><ellipse cx="5.7" cy="12" rx="1.2" ry="0.9" opacity=".6"/><ellipse cx="12.7" cy="6.3" rx="2.6" ry="0.8" opacity=".5"/><ellipse cx="16.6" cy="7.5" rx="1.9" ry="0.7" opacity=".5"/><ellipse cx="1.8" cy="7.1" rx="1.0" ry="0.75" opacity="0.25"/><ellipse cx="1.8" cy="12.4" rx="1.0" ry="0.75" opacity="0.30"/><ellipse cx="1.8" cy="15.6" rx="1.0" ry="0.75" opacity="0.20"/><ellipse cx="1.8" cy="19.0" rx="1.0" ry="0.75" opacity="0.60"/><ellipse cx="1.8" cy="23.0" rx="1.0" ry="0.75" opacity="0.30"/><ellipse cx="1.8" cy="26.0" rx="1.0" ry="0.75" opacity="0.30"/><ellipse cx="1.8" cy="28.8" rx="1.0" ry="0.75" opacity="0.85"/><ellipse cx="1.8" cy="32.2" rx="1.0" ry="0.75" opacity="0.50"/></g></g><g transform="translate(294.36 120.99)"><rect width="41.1" height="33.2" fill="#dadada"/><ellipse cx="27.1" cy="8.5" rx="6" ry="1.2" fill="#eeeeee" opacity=".7"/><g filter="url(#ma)" fill="#1a1a1a"><ellipse cx="5.7" cy="12" rx="1.2" ry="0.9" opacity=".6"/><ellipse cx="12.7" cy="6.3" rx="2.6" ry="0.8" opacity=".5"/><ellipse cx="16.6" cy="7.5" rx="1.9" ry="0.7" opacity=".5"/><ellipse cx="1.8" cy="7.1" rx="1.0" ry="0.75" opacity="0.25"/><ellipse cx="1.8" cy="12.4" rx="1.0" ry="0.75" opacity="0.30"/><ellipse cx="1.8" cy="15.6" rx="1.0" ry="0.75" opacity="0.20"/><ellipse cx="1.8" cy="19.0" rx="1.0" ry="0.75" opacity="0.60"/><ellipse cx="1.8" cy="23.0" rx="1.0" ry="0.75" opacity="0.30"/><ellipse cx="1.8" cy="26.0" rx="1.0" ry="0.75" opacity="0.30"/><ellipse cx="1.8" cy="28.8" rx="1.0" ry="0.75" opacity="0.85"/><ellipse cx="1.8" cy="32.2" rx="1.0" ry="0.75" opacity="0.50"/></g></g><g transform="translate(301.08 128.92)"><rect width="41.1" height="33.2" fill="#dadada"/><ellipse cx="27.1" cy="8.5" rx="6" ry="1.2" fill="#eeeeee" opacity=".7"/><g filter="url(#ma)" fill="#1a1a1a"><ellipse cx="5.7" cy="12" rx="1.2" ry="0.9" opacity=".6"/><ellipse cx="12.7" cy="6.3" rx="2.6" ry="0.8" opacity=".5"/><ellipse cx="16.6" cy="7.5" rx="1.9" ry="0.7" opacity=".5"/><ellipse cx="1.8" cy="7.1" rx="1.0" ry="0.75" opacity="0.25"/><ellipse cx="1.8" cy="12.4" rx="1.0" ry="0.75" opacity="0.30"/><ellipse cx="1.8" cy="15.6" rx="1.0" ry="0.75" opacity="0.20"/><ellipse cx="1.8" cy="19.0" rx="1.0" ry="0.75" opacity="0.60"/><ellipse cx="1.8" cy="23.0" rx="1.0" ry="0.75" opacity="0.30"/><ellipse cx="1.8" cy="26.0" rx="1.0" ry="0.75" opacity="0.30"/><ellipse cx="1.8" cy="28.8" rx="1.0" ry="0.75" opacity="0.85"/><ellipse cx="1.8" cy="32.2" rx="1.0" ry="0.75" opacity="0.50"/></g></g><g transform="translate(307.80 136.85)"><rect width="41.1" height="33.2" fill="#dadada"/><ellipse cx="27.1" cy="8.5" rx="6" ry="1.2" fill="#eeeeee" opacity=".7"/><g filter="url(#ma)" fill="#1a1a1a"><ellipse cx="5.7" cy="12" rx="1.2" ry="0.9" opacity=".6"/><ellipse cx="12.7" cy="6.3" rx="2.6" ry="0.8" opacity=".5"/><ellipse cx="16.6" cy="7.5" rx="1.9" ry="0.7" opacity=".5"/><ellipse cx="1.8" cy="7.1" rx="1.0" ry="0.75" opacity="0.25"/><ellipse cx="1.8" cy="12.4" rx="1.0" ry="0.75" opacity="0.30"/><ellipse cx="1.8" cy="15.6" rx="1.0" ry="0.75" opacity="0.20"/><ellipse cx="1.8" cy="19.0" rx="1.0" ry="0.75" opacity="0.60"/><ellipse cx="1.8" cy="23.0" rx="1.0" ry="0.75" opacity="0.30"/><ellipse cx="1.8" cy="26.0" rx="1.0" ry="0.75" opacity="0.30"/><ellipse cx="1.8" cy="28.8" rx="1.0" ry="0.75" opacity="0.85"/><ellipse cx="1.8" cy="32.2" rx="1.0" ry="0.75" opacity="0.50"/></g></g><g transform="translate(314.52 144.78)"><rect width="41.1" height="33.2" fill="#dadada"/><g filter="url(#ma)" fill="#1a1a1a"><ellipse cx="12.7" cy="5.7" rx="1.89" ry="0.50" opacity="0.72"/><ellipse cx="14.2" cy="8.0" rx="1.50" ry="0.89" opacity="0.85"/><ellipse cx="16.7" cy="7.1" rx="1.95" ry="0.50" opacity="0.68"/><ellipse cx="13.3" cy="9.2" rx="1.80" ry="0.50" opacity="0.72"/><ellipse cx="17.9" cy="9.1" rx="1.80" ry="0.56" opacity="0.81"/><ellipse cx="9.1" cy="9.4" rx="1.65" ry="0.50" opacity="0.59"/><ellipse cx="21.4" cy="9.3" rx="2.10" ry="0.50" opacity="0.68"/><ellipse cx="22.1" cy="10.5" rx="1.80" ry="0.50" opacity="0.47"/><ellipse cx="23.0" cy="11.1" rx="2.55" ry="0.50" opacity="0.68"/><ellipse cx="28.9" cy="10.9" rx="2.70" ry="0.50" opacity="0.77"/><ellipse cx="4.8" cy="11.7" rx="0.72" ry="0.50" opacity="0.39"/><ellipse cx="6.1" cy="11.8" rx="0.78" ry="0.50" opacity="0.44"/><ellipse cx="10.2" cy="11.7" rx="0.66" ry="0.50" opacity="0.47"/><ellipse cx="12.5" cy="12.1" rx="1.50" ry="0.50" opacity="0.72"/><ellipse cx="10.6" cy="12.7" rx="0.90" ry="0.50" opacity="0.33"/><ellipse cx="20.9" cy="12.0" rx="0.55" ry="0.50" opacity="0.44"/><ellipse cx="21.6" cy="12.0" rx="0.55" ry="0.50" opacity="0.44"/><ellipse cx="19.3" cy="11.9" rx="0.90" ry="0.50" opacity="0.33"/><ellipse cx="25.8" cy="12.8" rx="2.70" ry="0.50" opacity="0.51"/><ellipse cx="18.2" cy="14.7" rx="4.35" ry="1.07" opacity="0.85"/><ellipse cx="17.4" cy="14.7" rx="3.00" ry="0.89" opacity="0.85"/><ellipse cx="16.6" cy="14.6" rx="1.80" ry="0.71" opacity="0.85"/><ellipse cx="20.3" cy="14.9" rx="2.10" ry="0.71" opacity="0.77"/><ellipse cx="13.3" cy="14.4" rx="1.35" ry="0.77" opacity="0.81"/><ellipse cx="8.7" cy="15.9" rx="1.26" ry="0.89" opacity="0.85"/><ellipse cx="8.8" cy="16.0" rx="0.90" ry="0.65" opacity="0.55"/><ellipse cx="13.9" cy="17.4" rx="2.10" ry="0.71" opacity="0.85"/><ellipse cx="14.1" cy="17.4" rx="1.35" ry="0.50" opacity="0.85"/><ellipse cx="9.3" cy="18.7" rx="1.86" ry="0.77" opacity="0.85"/><ellipse cx="9.3" cy="18.8" rx="1.26" ry="0.50" opacity="0.85"/><ellipse cx="25.6" cy="14.8" rx="0.55" ry="0.50" opacity="0.28"/><ellipse cx="27.0" cy="14.9" rx="0.55" ry="0.50" opacity="0.44"/><ellipse cx="28.3" cy="14.9" rx="0.60" ry="0.50" opacity="0.52"/><ellipse cx="29.3" cy="14.9" rx="0.60" ry="0.50" opacity="0.55"/><ellipse cx="30.1" cy="15.0" rx="0.60" ry="0.50" opacity="0.55"/><ellipse cx="36.0" cy="14.3" rx="1.02" ry="0.50" opacity="0.81"/><ellipse cx="31.2" cy="15.7" rx="0.66" ry="0.50" opacity="0.30"/><ellipse cx="32.4" cy="15.7" rx="0.66" ry="0.50" opacity="0.30"/><ellipse cx="16.8" cy="17.6" rx="0.60" ry="0.50" opacity="0.28"/><ellipse cx="19.0" cy="17.8" rx="0.66" ry="0.50" opacity="0.30"/><ellipse cx="21.3" cy="18.0" rx="0.72" ry="0.50" opacity="0.39"/><ellipse cx="24.0" cy="18.3" rx="0.78" ry="0.50" opacity="0.47"/><ellipse cx="26.8" cy="18.5" rx="0.84" ry="0.50" opacity="0.39"/><ellipse cx="6.8" cy="21.2" rx="0.90" ry="0.50" opacity="0.41"/><ellipse cx="10.8" cy="21.0" rx="1.20" ry="0.59" opacity="0.51"/><ellipse cx="13.1" cy="21.4" rx="1.02" ry="0.50" opacity="0.85"/><ellipse cx="10.8" cy="22.9" rx="1.50" ry="0.65" opacity="0.38"/><ellipse cx="14.0" cy="24.4" rx="0.60" ry="0.50" opacity="0.25"/><ellipse cx="15.3" cy="24.5" rx="0.75" ry="0.50" opacity="0.25"/><ellipse cx="16.3" cy="24.4" rx="0.60" ry="0.50" opacity="0.25"/><ellipse cx="17.4" cy="24.6" rx="0.55" ry="0.50" opacity="0.25"/><ellipse cx="27.3" cy="25.2" rx="0.55" ry="0.50" opacity="0.47"/><ellipse cx="29.0" cy="25.2" rx="0.55" ry="0.50" opacity="0.50"/><ellipse cx="36.9" cy="25.5" rx="1.50" ry="0.50" opacity="0.47"/><ellipse cx="13.7" cy="28.2" rx="2.04" ry="0.71" opacity="0.85"/><ellipse cx="13.7" cy="28.3" rx="1.35" ry="0.50" opacity="0.85"/><ellipse cx="12.6" cy="29.3" rx="0.60" ry="0.50" opacity="0.44"/><ellipse cx="14.1" cy="29.3" rx="0.60" ry="0.50" opacity="0.47"/><ellipse cx="14.3" cy="31.8" rx="0.96" ry="0.50" opacity="0.85"/><ellipse cx="16.9" cy="31.8" rx="0.96" ry="0.50" opacity="0.85"/><ellipse cx="12.6" cy="31.8" rx="0.66" ry="0.50" opacity="0.33"/><ellipse cx="38.1" cy="32.0" rx="1.95" ry="0.50" opacity="0.64"/><ellipse cx="1.8" cy="7.1" rx="1.0" ry="0.75" opacity="0.25"/><ellipse cx="1.8" cy="12.4" rx="1.0" ry="0.75" opacity="0.30"/><ellipse cx="1.8" cy="15.6" rx="1.0" ry="0.75" opacity="0.20"/><ellipse cx="1.8" cy="19.0" rx="1.0" ry="0.75" opacity="0.60"/><ellipse cx="1.8" cy="23.0" rx="1.0" ry="0.75" opacity="0.30"/><ellipse cx="1.8" cy="26.0" rx="1.0" ry="0.75" opacity="0.30"/><ellipse cx="1.8" cy="28.8" rx="1.0" ry="0.75" opacity="0.85"/><ellipse cx="1.8" cy="32.2" rx="1.0" ry="0.75" opacity="0.50"/></g></g></g></svg>
<svg class="abs" style="left:0;top:0" width="681" height="474" viewBox="0 0 681 474"><defs><filter id="mb" x="-10%" y="-10%" width="120%" height="120%"><feGaussianBlur stdDeviation="0.3"/></filter><filter id="nb" x="-10%" y="-10%" width="120%" height="120%"><feGaussianBlur stdDeviation="0.4"/></filter></defs><g filter="url(#nb)"><g transform="translate(554.40 73.10)"><rect width="40.8" height="33.8" fill="#dadada"/><ellipse cx="26.9" cy="8.5" rx="6" ry="1.2" fill="#eeeeee" opacity=".7"/><g filter="url(#mb)" fill="#1a1a1a"><ellipse cx="5.7" cy="12" rx="1.2" ry="0.9" opacity=".6"/><ellipse cx="12.6" cy="6.3" rx="2.6" ry="0.8" opacity=".5"/><ellipse cx="16.5" cy="7.5" rx="1.9" ry="0.7" opacity=".5"/><ellipse cx="1.8" cy="7.1" rx="1.0" ry="0.75" opacity="0.25"/><ellipse cx="1.8" cy="12.4" rx="1.0" ry="0.75" opacity="0.30"/><ellipse cx="1.8" cy="15.6" rx="1.0" ry="0.75" opacity="0.20"/><ellipse cx="1.8" cy="19.0" rx="1.0" ry="0.75" opacity="0.60"/><ellipse cx="1.8" cy="23.0" rx="1.0" ry="0.75" opacity="0.30"/><ellipse cx="1.8" cy="26.0" rx="1.0" ry="0.75" opacity="0.30"/><ellipse cx="1.8" cy="28.8" rx="1.0" ry="0.75" opacity="0.85"/><ellipse cx="1.8" cy="32.2" rx="1.0" ry="0.75" opacity="0.50"/></g></g><g transform="translate(561.51 81.00)"><rect width="40.8" height="33.8" fill="#dadada"/><ellipse cx="26.9" cy="8.5" rx="6" ry="1.2" fill="#eeeeee" opacity=".7"/><g filter="url(#mb)" fill="#1a1a1a"><ellipse cx="5.7" cy="12" rx="1.2" ry="0.9" opacity=".6"/><ellipse cx="12.6" cy="6.3" rx="2.6" ry="0.8" opacity=".5"/><ellipse cx="16.5" cy="7.5" rx="1.9" ry="0.7" opacity=".5"/><ellipse cx="1.8" cy="7.1" rx="1.0" ry="0.75" opacity="0.25"/><ellipse cx="1.8" cy="12.4" rx="1.0" ry="0.75" opacity="0.30"/><ellipse cx="1.8" cy="15.6" rx="1.0" ry="0.75" opacity="0.20"/><ellipse cx="1.8" cy="19.0" rx="1.0" ry="0.75" opacity="0.60"/><ellipse cx="1.8" cy="23.0" rx="1.0" ry="0.75" opacity="0.30"/><ellipse cx="1.8" cy="26.0" rx="1.0" ry="0.75" opacity="0.30"/><ellipse cx="1.8" cy="28.8" rx="1.0" ry="0.75" opacity="0.85"/><ellipse cx="1.8" cy="32.2" rx="1.0" ry="0.75" opacity="0.50"/></g></g><g transform="translate(568.62 88.90)"><rect width="40.8" height="33.8" fill="#dadada"/><ellipse cx="26.9" cy="8.5" rx="6" ry="1.2" fill="#eeeeee" opacity=".7"/><g filter="url(#mb)" fill="#1a1a1a"><ellipse cx="5.7" cy="12" rx="1.2" ry="0.9" opacity=".6"/><ellipse cx="12.6" cy="6.3" rx="2.6" ry="0.8" opacity=".5"/><ellipse cx="16.5" cy="7.5" rx="1.9" ry="0.7" opacity=".5"/><ellipse cx="1.8" cy="7.1" rx="1.0" ry="0.75" opacity="0.25"/><ellipse cx="1.8" cy="12.4" rx="1.0" ry="0.75" opacity="0.30"/><ellipse cx="1.8" cy="15.6" rx="1.0" ry="0.75" opacity="0.20"/><ellipse cx="1.8" cy="19.0" rx="1.0" ry="0.75" opacity="0.60"/><ellipse cx="1.8" cy="23.0" rx="1.0" ry="0.75" opacity="0.30"/><ellipse cx="1.8" cy="26.0" rx="1.0" ry="0.75" opacity="0.30"/><ellipse cx="1.8" cy="28.8" rx="1.0" ry="0.75" opacity="0.85"/><ellipse cx="1.8" cy="32.2" rx="1.0" ry="0.75" opacity="0.50"/></g></g><g transform="translate(575.73 96.80)"><rect width="40.8" height="33.8" fill="#dadada"/><ellipse cx="26.9" cy="8.5" rx="6" ry="1.2" fill="#eeeeee" opacity=".7"/><g filter="url(#mb)" fill="#1a1a1a"><ellipse cx="5.7" cy="12" rx="1.2" ry="0.9" opacity=".6"/><ellipse cx="12.6" cy="6.3" rx="2.6" ry="0.8" opacity=".5"/><ellipse cx="16.5" cy="7.5" rx="1.9" ry="0.7" opacity=".5"/><ellipse cx="1.8" cy="7.1" rx="1.0" ry="0.75" opacity="0.25"/><ellipse cx="1.8" cy="12.4" rx="1.0" ry="0.75" opacity="0.30"/><ellipse cx="1.8" cy="15.6" rx="1.0" ry="0.75" opacity="0.20"/><ellipse cx="1.8" cy="19.0" rx="1.0" ry="0.75" opacity="0.60"/><ellipse cx="1.8" cy="23.0" rx="1.0" ry="0.75" opacity="0.30"/><ellipse cx="1.8" cy="26.0" rx="1.0" ry="0.75" opacity="0.30"/><ellipse cx="1.8" cy="28.8" rx="1.0" ry="0.75" opacity="0.85"/><ellipse cx="1.8" cy="32.2" rx="1.0" ry="0.75" opacity="0.50"/></g></g><g transform="translate(582.84 104.70)"><rect width="40.8" height="33.8" fill="#dadada"/><ellipse cx="26.9" cy="8.5" rx="6" ry="1.2" fill="#eeeeee" opacity=".7"/><g filter="url(#mb)" fill="#1a1a1a"><ellipse cx="5.7" cy="12" rx="1.2" ry="0.9" opacity=".6"/><ellipse cx="12.6" cy="6.3" rx="2.6" ry="0.8" opacity=".5"/><ellipse cx="16.5" cy="7.5" rx="1.9" ry="0.7" opacity=".5"/><ellipse cx="1.8" cy="7.1" rx="1.0" ry="0.75" opacity="0.25"/><ellipse cx="1.8" cy="12.4" rx="1.0" ry="0.75" opacity="0.30"/><ellipse cx="1.8" cy="15.6" rx="1.0" ry="0.75" opacity="0.20"/><ellipse cx="1.8" cy="19.0" rx="1.0" ry="0.75" opacity="0.60"/><ellipse cx="1.8" cy="23.0" rx="1.0" ry="0.75" opacity="0.30"/><ellipse cx="1.8" cy="26.0" rx="1.0" ry="0.75" opacity="0.30"/><ellipse cx="1.8" cy="28.8" rx="1.0" ry="0.75" opacity="0.85"/><ellipse cx="1.8" cy="32.2" rx="1.0" ry="0.75" opacity="0.50"/></g></g><g transform="translate(589.95 112.60)"><rect width="40.8" height="33.8" fill="#dadada"/><ellipse cx="26.9" cy="8.5" rx="6" ry="1.2" fill="#eeeeee" opacity=".7"/><g filter="url(#mb)" fill="#1a1a1a"><ellipse cx="5.7" cy="12" rx="1.2" ry="0.9" opacity=".6"/><ellipse cx="12.6" cy="6.3" rx="2.6" ry="0.8" opacity=".5"/><ellipse cx="16.5" cy="7.5" rx="1.9" ry="0.7" opacity=".5"/><ellipse cx="1.8" cy="7.1" rx="1.0" ry="0.75" opacity="0.25"/><ellipse cx="1.8" cy="12.4" rx="1.0" ry="0.75" opacity="0.30"/><ellipse cx="1.8" cy="15.6" rx="1.0" ry="0.75" opacity="0.20"/><ellipse cx="1.8" cy="19.0" rx="1.0" ry="0.75" opacity="0.60"/><ellipse cx="1.8" cy="23.0" rx="1.0" ry="0.75" opacity="0.30"/><ellipse cx="1.8" cy="26.0" rx="1.0" ry="0.75" opacity="0.30"/><ellipse cx="1.8" cy="28.8" rx="1.0" ry="0.75" opacity="0.85"/><ellipse cx="1.8" cy="32.2" rx="1.0" ry="0.75" opacity="0.50"/></g></g><g transform="translate(597.06 120.50)"><rect width="40.8" height="33.8" fill="#dadada"/><ellipse cx="26.9" cy="8.5" rx="6" ry="1.2" fill="#eeeeee" opacity=".7"/><g filter="url(#mb)" fill="#1a1a1a"><ellipse cx="5.7" cy="12" rx="1.2" ry="0.9" opacity=".6"/><ellipse cx="12.6" cy="6.3" rx="2.6" ry="0.8" opacity=".5"/><ellipse cx="16.5" cy="7.5" rx="1.9" ry="0.7" opacity=".5"/><ellipse cx="1.8" cy="7.1" rx="1.0" ry="0.75" opacity="0.25"/><ellipse cx="1.8" cy="12.4" rx="1.0" ry="0.75" opacity="0.30"/><ellipse cx="1.8" cy="15.6" rx="1.0" ry="0.75" opacity="0.20"/><ellipse cx="1.8" cy="19.0" rx="1.0" ry="0.75" opacity="0.60"/><ellipse cx="1.8" cy="23.0" rx="1.0" ry="0.75" opacity="0.30"/><ellipse cx="1.8" cy="26.0" rx="1.0" ry="0.75" opacity="0.30"/><ellipse cx="1.8" cy="28.8" rx="1.0" ry="0.75" opacity="0.85"/><ellipse cx="1.8" cy="32.2" rx="1.0" ry="0.75" opacity="0.50"/></g></g><g transform="translate(604.17 128.40)"><rect width="40.8" height="33.8" fill="#dadada"/><ellipse cx="26.9" cy="8.5" rx="6" ry="1.2" fill="#eeeeee" opacity=".7"/><g filter="url(#mb)" fill="#1a1a1a"><ellipse cx="5.7" cy="12" rx="1.2" ry="0.9" opacity=".6"/><ellipse cx="12.6" cy="6.3" rx="2.6" ry="0.8" opacity=".5"/><ellipse cx="16.5" cy="7.5" rx="1.9" ry="0.7" opacity=".5"/><ellipse cx="1.8" cy="7.1" rx="1.0" ry="0.75" opacity="0.25"/><ellipse cx="1.8" cy="12.4" rx="1.0" ry="0.75" opacity="0.30"/><ellipse cx="1.8" cy="15.6" rx="1.0" ry="0.75" opacity="0.20"/><ellipse cx="1.8" cy="19.0" rx="1.0" ry="0.75" opacity="0.60"/><ellipse cx="1.8" cy="23.0" rx="1.0" ry="0.75" opacity="0.30"/><ellipse cx="1.8" cy="26.0" rx="1.0" ry="0.75" opacity="0.30"/><ellipse cx="1.8" cy="28.8" rx="1.0" ry="0.75" opacity="0.85"/><ellipse cx="1.8" cy="32.2" rx="1.0" ry="0.75" opacity="0.50"/></g></g><g transform="translate(611.28 136.30)"><rect width="40.8" height="33.8" fill="#dadada"/><ellipse cx="26.9" cy="8.5" rx="6" ry="1.2" fill="#eeeeee" opacity=".7"/><g filter="url(#mb)" fill="#1a1a1a"><ellipse cx="5.7" cy="12" rx="1.2" ry="0.9" opacity=".6"/><ellipse cx="12.6" cy="6.3" rx="2.6" ry="0.8" opacity=".5"/><ellipse cx="16.5" cy="7.5" rx="1.9" ry="0.7" opacity=".5"/><ellipse cx="1.8" cy="7.1" rx="1.0" ry="0.75" opacity="0.25"/><ellipse cx="1.8" cy="12.4" rx="1.0" ry="0.75" opacity="0.30"/><ellipse cx="1.8" cy="15.6" rx="1.0" ry="0.75" opacity="0.20"/><ellipse cx="1.8" cy="19.0" rx="1.0" ry="0.75" opacity="0.60"/><ellipse cx="1.8" cy="23.0" rx="1.0" ry="0.75" opacity="0.30"/><ellipse cx="1.8" cy="26.0" rx="1.0" ry="0.75" opacity="0.30"/><ellipse cx="1.8" cy="28.8" rx="1.0" ry="0.75" opacity="0.85"/><ellipse cx="1.8" cy="32.2" rx="1.0" ry="0.75" opacity="0.50"/></g></g><g transform="translate(618.39 144.20)"><rect width="40.8" height="33.8" fill="#dadada"/><g filter="url(#mb)" fill="#1a1a1a"><ellipse cx="12.2" cy="6.5" rx="1.76" ry="0.50" opacity="0.77"/><ellipse cx="13.3" cy="8.8" rx="1.52" ry="0.90" opacity="0.85"/><ellipse cx="15.6" cy="7.9" rx="1.88" ry="0.50" opacity="0.72"/><ellipse cx="17.0" cy="9.8" rx="1.97" ry="0.54" opacity="0.85"/><ellipse cx="12.5" cy="9.9" rx="1.82" ry="0.50" opacity="0.64"/><ellipse cx="8.9" cy="10.2" rx="1.52" ry="0.50" opacity="0.64"/><ellipse cx="4.1" cy="9.9" rx="1.21" ry="0.50" opacity="0.42"/><ellipse cx="4.6" cy="12.6" rx="1.67" ry="0.54" opacity="0.51"/><ellipse cx="9.4" cy="12.7" rx="0.55" ry="0.50" opacity="0.55"/><ellipse cx="11.6" cy="12.8" rx="1.36" ry="0.50" opacity="0.51"/><ellipse cx="9.8" cy="13.6" rx="0.85" ry="0.50" opacity="0.30"/><ellipse cx="18.1" cy="12.6" rx="0.55" ry="0.50" opacity="0.50"/><ellipse cx="19.0" cy="12.7" rx="0.55" ry="0.50" opacity="0.52"/><ellipse cx="19.8" cy="12.7" rx="0.55" ry="0.50" opacity="0.52"/><ellipse cx="16.5" cy="12.4" rx="1.21" ry="0.50" opacity="0.42"/><ellipse cx="19.3" cy="11.0" rx="1.82" ry="0.50" opacity="0.42"/><ellipse cx="21.4" cy="9.9" rx="1.97" ry="0.50" opacity="0.77"/><ellipse cx="21.7" cy="11.1" rx="1.52" ry="0.50" opacity="0.47"/><ellipse cx="22.0" cy="11.9" rx="2.27" ry="0.50" opacity="0.72"/><ellipse cx="26.4" cy="4.3" rx="1.67" ry="0.50" opacity="0.42"/><ellipse cx="29.2" cy="10.3" rx="1.97" ry="0.50" opacity="0.42"/><ellipse cx="28.4" cy="11.8" rx="2.88" ry="0.54" opacity="0.77"/><ellipse cx="25.2" cy="13.7" rx="1.97" ry="0.50" opacity="0.51"/><ellipse cx="27.0" cy="14.6" rx="1.36" ry="0.50" opacity="0.42"/><ellipse cx="17.7" cy="15.3" rx="4.25" ry="1.11" opacity="0.85"/><ellipse cx="16.9" cy="15.2" rx="3.03" ry="0.93" opacity="0.85"/><ellipse cx="16.0" cy="15.1" rx="1.82" ry="0.72" opacity="0.85"/><ellipse cx="19.7" cy="15.7" rx="2.12" ry="0.72" opacity="0.81"/><ellipse cx="12.5" cy="15.1" rx="1.46" ry="0.78" opacity="0.81"/><ellipse cx="7.8" cy="16.9" rx="1.40" ry="0.84" opacity="0.68"/><ellipse cx="7.9" cy="16.9" rx="0.91" ry="0.54" opacity="0.59"/><ellipse cx="12.8" cy="18.0" rx="1.82" ry="0.81" opacity="0.85"/><ellipse cx="12.9" cy="18.1" rx="1.21" ry="0.51" opacity="0.85"/><ellipse cx="8.4" cy="19.7" rx="1.82" ry="0.75" opacity="0.85"/><ellipse cx="8.5" cy="19.7" rx="1.21" ry="0.50" opacity="0.85"/><ellipse cx="25.0" cy="15.6" rx="0.55" ry="0.50" opacity="0.39"/><ellipse cx="26.3" cy="15.7" rx="0.61" ry="0.50" opacity="0.55"/><ellipse cx="27.6" cy="15.7" rx="0.64" ry="0.51" opacity="0.55"/><ellipse cx="28.7" cy="15.8" rx="0.64" ry="0.51" opacity="0.55"/><ellipse cx="29.7" cy="15.8" rx="0.61" ry="0.50" opacity="0.55"/><ellipse cx="36.1" cy="15.2" rx="1.46" ry="0.50" opacity="0.81"/><ellipse cx="31.1" cy="16.6" rx="0.76" ry="0.50" opacity="0.28"/><ellipse cx="32.1" cy="16.6" rx="0.76" ry="0.50" opacity="0.28"/><ellipse cx="16.1" cy="18.0" rx="0.61" ry="0.50" opacity="0.30"/><ellipse cx="18.1" cy="18.4" rx="0.67" ry="0.50" opacity="0.33"/><ellipse cx="20.6" cy="18.8" rx="0.73" ry="0.51" opacity="0.36"/><ellipse cx="23.4" cy="19.1" rx="0.91" ry="0.54" opacity="0.68"/><ellipse cx="26.3" cy="19.3" rx="0.85" ry="0.50" opacity="0.39"/><ellipse cx="6.0" cy="22.1" rx="0.85" ry="0.50" opacity="0.28"/><ellipse cx="9.8" cy="21.9" rx="1.03" ry="0.57" opacity="0.68"/><ellipse cx="12.2" cy="22.1" rx="1.03" ry="0.50" opacity="0.81"/><ellipse cx="17.6" cy="27.6" rx="0.55" ry="0.50" opacity="0.33"/><ellipse cx="14.7" cy="28.5" rx="0.55" ry="0.50" opacity="0.25"/><ellipse cx="15.6" cy="28.5" rx="0.55" ry="0.50" opacity="0.25"/><ellipse cx="26.3" cy="25.9" rx="0.61" ry="0.50" opacity="0.50"/><ellipse cx="28.2" cy="25.9" rx="0.61" ry="0.50" opacity="0.52"/><ellipse cx="36.6" cy="26.4" rx="1.52" ry="0.50" opacity="0.42"/><ellipse cx="12.6" cy="29.0" rx="1.94" ry="0.72" opacity="0.85"/><ellipse cx="12.6" cy="29.0" rx="1.27" ry="0.50" opacity="0.85"/><ellipse cx="11.7" cy="29.9" rx="0.61" ry="0.50" opacity="0.44"/><ellipse cx="13.1" cy="29.9" rx="0.61" ry="0.50" opacity="0.47"/><ellipse cx="13.3" cy="32.3" rx="1.00" ry="0.50" opacity="0.85"/><ellipse cx="15.8" cy="32.4" rx="1.00" ry="0.50" opacity="0.85"/><ellipse cx="11.7" cy="32.3" rx="0.67" ry="0.50" opacity="0.33"/><ellipse cx="1.8" cy="7.1" rx="1.0" ry="0.75" opacity="0.25"/><ellipse cx="1.8" cy="12.4" rx="1.0" ry="0.75" opacity="0.30"/><ellipse cx="1.8" cy="15.6" rx="1.0" ry="0.75" opacity="0.20"/><ellipse cx="1.8" cy="19.0" rx="1.0" ry="0.75" opacity="0.60"/><ellipse cx="1.8" cy="23.0" rx="1.0" ry="0.75" opacity="0.30"/><ellipse cx="1.8" cy="26.0" rx="1.0" ry="0.75" opacity="0.30"/><ellipse cx="1.8" cy="28.8" rx="1.0" ry="0.75" opacity="0.85"/><ellipse cx="1.8" cy="32.2" rx="1.0" ry="0.75" opacity="0.50"/></g></g></g></svg>
<svg class="abs" style="left:0;top:0" width="681" height="474" viewBox="0 0 681 474">
<g fill="#4472c4" stroke="#34589a" stroke-width="0.9" stroke-linejoin="miter">
<path d="M200.4 194.2H223.9V213.9H236.6L212.3 233.1L188 213.9H200.4Z"/>
<path d="M338.1 312.9H357.6V300.8L376.9 324.7L357.6 348.7V336.5H338.1Z"/>
</g>
<path d="M331.5 80.2L338.7 73.5V76.8H362.2V73.5L369.5 80.2L362.2 86.9V83.8H338.7V86.9Z" fill="#4472c4"/>
<path d="M413 40.4H545" stroke="#e9e9e9" stroke-width="0.7" fill="none"/><path d="M411.6 40.3l2.6-1.1v2.2zM546.4 40.3l-2.6-1.1v2.2z" fill="#555"/>
</svg>
<div class="t" style="left:43.68px;top:311.61px;font-size:22.2px;transform:scaleX(0.9787);-webkit-text-stroke:.3px #000;">Data</div>
<div class="t" style="left:25.34px;top:338.61px;font-size:22.2px;transform:scaleX(0.9807);-webkit-text-stroke:.3px #000;">Analysis</div>
<svg class="abs" style="left:0;top:0" width="681" height="474" viewBox="0 0 681 474" font-family="Liberation Sans, sans-serif">
<defs><filter id="vb" x="-5%" y="-5%" width="110%" height="110%"><feGaussianBlur stdDeviation="0.45"/></filter></defs>
<g filter="url(#vb)">
<rect x="155.2" y="253.5" width="158.6" height="175" fill="#fff" stroke="#b4b4b4" stroke-width="1"/>
<path d="M188.1 261.6V403.2M206.9 261.6V403.2M225.7 261.6V403.2M244.5 261.6V403.2M263.3 261.6V403.2M282.1 261.6V403.2M300.9 261.6V403.2M188.1 403.2H300.9M188.1 385.5H300.9M188.1 367.8H300.9M188.1 350.1H300.9M188.1 332.4H300.9M188.1 314.7H300.9M188.1 297.0H300.9M188.1 279.3H300.9M188.1 261.6H300.9" stroke="#e3e3e3" stroke-width="0.7" fill="none"/>
<path d="M233.6 261.6V403.2M255.4 261.6V403.2" stroke="#c9c9c9" stroke-width="0.7" fill="none"/>
<text x="181.5" y="405.1" font-size="5.4" font-weight="bold" fill="#444" text-anchor="end">0</text>
<text x="181.5" y="387.4" font-size="5.4" font-weight="bold" fill="#444" text-anchor="end">0.5</text>
<text x="181.5" y="369.7" font-size="5.4" font-weight="bold" fill="#444" text-anchor="end">1</text>
<text x="181.5" y="352.0" font-size="5.4" font-weight="bold" fill="#444" text-anchor="end">1.5</text>
<text x="181.5" y="334.3" font-size="5.4" font-weight="bold" fill="#444" text-anchor="end">2</text>
<text x="181.5" y="316.6" font-size="5.4" font-weight="bold" fill="#444" text-anchor="end">2.5</text>
<text x="181.5" y="298.9" font-size="5.4" font-weight="bold" fill="#444" text-anchor="end">3</text>
<text x="181.5" y="281.2" font-size="5.4" font-weight="bold" fill="#444" text-anchor="end">3.5</text>
<text x="181.5" y="263.5" font-size="5.4" font-weight="bold" fill="#444" text-anchor="end">4</text>
<text x="188.1" y="412.7" font-size="5.4" font-weight="bold" fill="#444" text-anchor="middle">-3.0</text>
<text x="206.9" y="412.7" font-size="5.4" font-weight="bold" fill="#444" text-anchor="middle">-2.0</text>
<text x="225.7" y="412.7" font-size="5.4" font-weight="bold" fill="#444" text-anchor="middle">-1.0</text>
<text x="244.5" y="412.7" font-size="5.4" font-weight="bold" fill="#444" text-anchor="middle">0.0</text>
<text x="263.3" y="412.7" font-size="5.4" font-weight="bold" fill="#444" text-anchor="middle">1.0</text>
<text x="282.1" y="412.7" font-size="5.4" font-weight="bold" fill="#444" text-anchor="middle">2.0</text>
<text x="300.9" y="412.7" font-size="5.4" font-weight="bold" fill="#444" text-anchor="middle">3.0</text>
<text transform="translate(169.2 342) rotate(-90)" font-size="5.1" font-weight="bold" fill="#333" text-anchor="middle">-log10(p-value)</text>
<text x="244.5" y="422.6" font-size="5.6" font-weight="bold" fill="#333" text-anchor="middle">log2 fold change</text>
</g></svg>
<svg class="abs" style="left:0;top:0" width="681" height="474" viewBox="0 0 681 474" font-family="Liberation Sans, sans-serif">
<defs><filter id="vp" x="-5%" y="-5%" width="110%" height="110%"><feGaussianBlur stdDeviation="0.4"/></filter></defs>
<g filter="url(#vp)">
<g fill="#a6a6a6">
<circle cx="241.8" cy="358.2" r="1.3"/>
<circle cx="250.7" cy="358.8" r="1.3"/>
<circle cx="239.7" cy="359.7" r="1.3"/>
<circle cx="241.0" cy="359.9" r="1.3"/>
<circle cx="233.6" cy="361.5" r="1.3"/>
<circle cx="236.8" cy="361.8" r="1.3"/>
<circle cx="242.0" cy="361.4" r="1.3"/>
<circle cx="247.8" cy="361.5" r="1.3"/>
<circle cx="252.4" cy="361.1" r="1.3"/>
<circle cx="235.4" cy="362.9" r="1.3"/>
<circle cx="237.1" cy="363.1" r="1.3"/>
<circle cx="239.0" cy="363.0" r="1.3"/>
<circle cx="241.9" cy="362.7" r="1.3"/>
<circle cx="243.2" cy="362.8" r="1.3"/>
<circle cx="247.9" cy="363.4" r="1.3"/>
<circle cx="249.1" cy="363.0" r="1.3"/>
<circle cx="250.7" cy="363.0" r="1.3"/>
<circle cx="252.5" cy="363.4" r="1.3"/>
<circle cx="254.7" cy="362.7" r="1.3"/>
<circle cx="234.6" cy="364.2" r="1.3"/>
<circle cx="236.1" cy="365.0" r="1.3"/>
<circle cx="237.1" cy="364.5" r="1.3"/>
<circle cx="238.4" cy="364.4" r="1.3"/>
<circle cx="241.8" cy="364.4" r="1.3"/>
<circle cx="243.4" cy="364.5" r="1.3"/>
<circle cx="247.7" cy="364.9" r="1.3"/>
<circle cx="248.9" cy="364.9" r="1.3"/>
<circle cx="250.3" cy="364.1" r="1.3"/>
<circle cx="251.8" cy="364.9" r="1.3"/>
<circle cx="253.3" cy="364.9" r="1.3"/>
<circle cx="234.3" cy="365.8" r="1.3"/>
<circle cx="236.9" cy="365.7" r="1.3"/>
<circle cx="239.1" cy="365.8" r="1.3"/>
<circle cx="242.1" cy="366.1" r="1.3"/>
<circle cx="246.6" cy="366.5" r="1.3"/>
<circle cx="248.1" cy="366.1" r="1.3"/>
<circle cx="248.9" cy="365.6" r="1.3"/>
<circle cx="250.6" cy="365.7" r="1.3"/>
<circle cx="252.7" cy="366.2" r="1.3"/>
<circle cx="253.7" cy="366.0" r="1.3"/>
<circle cx="235.8" cy="367.4" r="1.3"/>
<circle cx="240.0" cy="367.3" r="1.3"/>
<circle cx="242.0" cy="367.8" r="1.3"/>
<circle cx="243.9" cy="367.4" r="1.3"/>
<circle cx="246.8" cy="367.9" r="1.3"/>
<circle cx="248.3" cy="367.1" r="1.3"/>
<circle cx="249.8" cy="367.8" r="1.3"/>
<circle cx="251.4" cy="367.7" r="1.3"/>
<circle cx="254.3" cy="367.6" r="1.3"/>
<circle cx="234.7" cy="368.5" r="1.3"/>
<circle cx="236.2" cy="369.2" r="1.3"/>
<circle cx="237.4" cy="368.6" r="1.3"/>
<circle cx="238.9" cy="369.2" r="1.3"/>
<circle cx="240.6" cy="369.0" r="1.3"/>
<circle cx="242.3" cy="369.1" r="1.3"/>
<circle cx="243.4" cy="369.2" r="1.3"/>
<circle cx="246.9" cy="369.2" r="1.3"/>
<circle cx="248.1" cy="369.0" r="1.3"/>
<circle cx="251.1" cy="369.3" r="1.3"/>
<circle cx="252.4" cy="368.7" r="1.3"/>
<circle cx="254.3" cy="368.6" r="1.3"/>
<circle cx="235.2" cy="370.5" r="1.3"/>
<circle cx="237.8" cy="370.5" r="1.3"/>
<circle cx="241.1" cy="370.8" r="1.3"/>
<circle cx="242.6" cy="370.9" r="1.3"/>
<circle cx="243.7" cy="371.0" r="1.3"/>
<circle cx="247.2" cy="370.3" r="1.3"/>
<circle cx="248.1" cy="370.5" r="1.3"/>
<circle cx="250.3" cy="370.9" r="1.3"/>
<circle cx="251.8" cy="370.9" r="1.3"/>
<circle cx="252.4" cy="370.7" r="1.3"/>
<circle cx="235.0" cy="371.8" r="1.3"/>
<circle cx="236.3" cy="372.2" r="1.3"/>
<circle cx="237.7" cy="371.7" r="1.3"/>
<circle cx="239.5" cy="371.7" r="1.3"/>
<circle cx="242.4" cy="371.6" r="1.3"/>
<circle cx="248.5" cy="372.1" r="1.3"/>
<circle cx="249.8" cy="371.7" r="1.3"/>
<circle cx="252.6" cy="372.2" r="1.3"/>
<circle cx="235.3" cy="373.0" r="1.3"/>
<circle cx="237.9" cy="373.5" r="1.3"/>
<circle cx="240.0" cy="373.6" r="1.3"/>
<circle cx="241.3" cy="373.0" r="1.3"/>
<circle cx="247.0" cy="373.6" r="1.3"/>
<circle cx="248.7" cy="374.0" r="1.3"/>
<circle cx="250.2" cy="373.2" r="1.3"/>
<circle cx="251.9" cy="373.3" r="1.3"/>
<circle cx="253.4" cy="373.4" r="1.3"/>
<circle cx="235.2" cy="374.5" r="1.3"/>
<circle cx="236.6" cy="375.3" r="1.3"/>
<circle cx="238.9" cy="374.8" r="1.3"/>
<circle cx="239.7" cy="375.3" r="1.3"/>
<circle cx="241.4" cy="374.7" r="1.3"/>
<circle cx="243.1" cy="375.4" r="1.3"/>
<circle cx="247.7" cy="375.5" r="1.3"/>
<circle cx="250.6" cy="374.9" r="1.3"/>
<circle cx="251.6" cy="374.5" r="1.3"/>
<circle cx="237.0" cy="376.9" r="1.3"/>
<circle cx="238.2" cy="376.4" r="1.3"/>
<circle cx="239.7" cy="376.0" r="1.3"/>
<circle cx="241.4" cy="376.7" r="1.3"/>
<circle cx="242.9" cy="377.0" r="1.3"/>
<circle cx="246.4" cy="376.9" r="1.3"/>
<circle cx="247.2" cy="376.2" r="1.3"/>
<circle cx="249.6" cy="376.4" r="1.3"/>
<circle cx="250.7" cy="376.9" r="1.3"/>
<circle cx="252.4" cy="376.8" r="1.3"/>
<circle cx="237.2" cy="378.5" r="1.3"/>
<circle cx="238.5" cy="377.6" r="1.3"/>
<circle cx="240.3" cy="377.7" r="1.3"/>
<circle cx="242.1" cy="378.2" r="1.3"/>
<circle cx="243.0" cy="378.3" r="1.3"/>
<circle cx="246.1" cy="377.7" r="1.3"/>
<circle cx="247.7" cy="377.9" r="1.3"/>
<circle cx="249.1" cy="378.3" r="1.3"/>
<circle cx="250.5" cy="378.0" r="1.3"/>
<circle cx="236.6" cy="379.6" r="1.3"/>
<circle cx="239.2" cy="379.6" r="1.3"/>
<circle cx="240.3" cy="379.2" r="1.3"/>
<circle cx="242.3" cy="379.2" r="1.3"/>
<circle cx="243.8" cy="379.2" r="1.3"/>
<circle cx="247.8" cy="379.7" r="1.3"/>
<circle cx="249.4" cy="380.0" r="1.3"/>
<circle cx="251.0" cy="379.4" r="1.3"/>
<circle cx="236.8" cy="380.9" r="1.3"/>
<circle cx="237.8" cy="380.7" r="1.3"/>
<circle cx="239.8" cy="380.6" r="1.3"/>
<circle cx="240.9" cy="380.6" r="1.3"/>
<circle cx="242.8" cy="380.6" r="1.3"/>
<circle cx="244.4" cy="380.7" r="1.3"/>
<circle cx="245.9" cy="381.0" r="1.3"/>
<circle cx="246.8" cy="381.4" r="1.3"/>
<circle cx="248.0" cy="381.3" r="1.3"/>
<circle cx="250.2" cy="381.3" r="1.3"/>
<circle cx="238.2" cy="382.6" r="1.3"/>
<circle cx="239.7" cy="382.4" r="1.3"/>
<circle cx="241.1" cy="382.0" r="1.3"/>
<circle cx="242.4" cy="382.8" r="1.3"/>
<circle cx="245.6" cy="382.1" r="1.3"/>
<circle cx="246.7" cy="382.6" r="1.3"/>
<circle cx="248.9" cy="382.5" r="1.3"/>
<circle cx="250.0" cy="383.0" r="1.3"/>
<circle cx="238.8" cy="383.6" r="1.3"/>
<circle cx="239.6" cy="384.4" r="1.3"/>
<circle cx="241.1" cy="384.0" r="1.3"/>
<circle cx="244.1" cy="383.7" r="1.3"/>
<circle cx="247.4" cy="384.1" r="1.3"/>
<circle cx="250.9" cy="384.1" r="1.3"/>
<circle cx="251.7" cy="384.5" r="1.3"/>
<circle cx="238.5" cy="385.6" r="1.3"/>
<circle cx="240.0" cy="385.0" r="1.3"/>
<circle cx="241.8" cy="385.4" r="1.3"/>
<circle cx="244.2" cy="385.4" r="1.3"/>
<circle cx="245.9" cy="385.6" r="1.3"/>
<circle cx="247.8" cy="385.5" r="1.3"/>
<circle cx="248.9" cy="385.1" r="1.3"/>
<circle cx="252.3" cy="385.6" r="1.3"/>
<circle cx="240.8" cy="386.5" r="1.3"/>
<circle cx="241.6" cy="386.7" r="1.3"/>
<circle cx="243.6" cy="387.3" r="1.3"/>
<circle cx="246.7" cy="386.5" r="1.3"/>
<circle cx="247.9" cy="387.2" r="1.3"/>
<circle cx="249.1" cy="386.7" r="1.3"/>
<circle cx="251.2" cy="387.2" r="1.3"/>
<circle cx="237.8" cy="388.4" r="1.3"/>
<circle cx="239.0" cy="388.6" r="1.3"/>
<circle cx="241.2" cy="388.0" r="1.3"/>
<circle cx="242.0" cy="388.7" r="1.3"/>
<circle cx="244.0" cy="388.3" r="1.3"/>
<circle cx="245.1" cy="388.2" r="1.3"/>
<circle cx="246.9" cy="388.7" r="1.3"/>
<circle cx="248.8" cy="388.5" r="1.3"/>
<circle cx="250.0" cy="388.9" r="1.3"/>
<circle cx="238.2" cy="389.6" r="1.3"/>
<circle cx="239.1" cy="389.6" r="1.3"/>
<circle cx="240.7" cy="389.5" r="1.3"/>
<circle cx="242.8" cy="390.1" r="1.3"/>
<circle cx="244.3" cy="389.6" r="1.3"/>
<circle cx="245.4" cy="390.3" r="1.3"/>
<circle cx="247.5" cy="389.6" r="1.3"/>
<circle cx="249.0" cy="390.4" r="1.3"/>
<circle cx="249.8" cy="389.6" r="1.3"/>
<circle cx="238.7" cy="391.8" r="1.3"/>
<circle cx="240.0" cy="391.3" r="1.3"/>
<circle cx="241.0" cy="391.8" r="1.3"/>
<circle cx="242.7" cy="391.4" r="1.3"/>
<circle cx="244.1" cy="391.3" r="1.3"/>
<circle cx="245.8" cy="391.3" r="1.3"/>
<circle cx="247.4" cy="391.9" r="1.3"/>
<circle cx="248.4" cy="391.4" r="1.3"/>
<circle cx="250.7" cy="391.3" r="1.3"/>
<circle cx="242.2" cy="392.5" r="1.3"/>
<circle cx="243.2" cy="393.3" r="1.3"/>
<circle cx="244.7" cy="392.8" r="1.3"/>
<circle cx="246.0" cy="393.4" r="1.3"/>
<circle cx="247.4" cy="393.2" r="1.3"/>
<circle cx="248.8" cy="393.1" r="1.3"/>
<circle cx="239.3" cy="394.7" r="1.3"/>
<circle cx="240.4" cy="394.4" r="1.3"/>
<circle cx="241.6" cy="394.9" r="1.3"/>
<circle cx="243.2" cy="394.3" r="1.3"/>
<circle cx="245.0" cy="394.4" r="1.3"/>
<circle cx="246.3" cy="394.5" r="1.3"/>
<circle cx="248.3" cy="394.8" r="1.3"/>
<circle cx="241.1" cy="396.1" r="1.3"/>
<circle cx="242.3" cy="396.4" r="1.3"/>
<circle cx="243.6" cy="395.8" r="1.3"/>
<circle cx="245.7" cy="395.7" r="1.3"/>
<circle cx="246.6" cy="395.8" r="1.3"/>
<circle cx="248.0" cy="395.8" r="1.3"/>
<circle cx="239.3" cy="397.4" r="1.3"/>
<circle cx="241.4" cy="397.4" r="1.3"/>
<circle cx="242.8" cy="397.1" r="1.3"/>
<circle cx="244.1" cy="397.0" r="1.3"/>
<circle cx="246.0" cy="397.7" r="1.3"/>
<circle cx="247.3" cy="397.5" r="1.3"/>
<circle cx="248.8" cy="397.4" r="1.3"/>
<circle cx="240.0" cy="399.1" r="1.3"/>
<circle cx="241.3" cy="399.2" r="1.3"/>
<circle cx="243.2" cy="399.4" r="1.3"/>
<circle cx="244.7" cy="399.0" r="1.3"/>
<circle cx="246.2" cy="398.6" r="1.3"/>
<circle cx="247.8" cy="399.2" r="1.3"/>
<circle cx="248.8" cy="398.9" r="1.3"/>
<circle cx="240.3" cy="400.7" r="1.3"/>
<circle cx="242.1" cy="400.8" r="1.3"/>
<circle cx="243.4" cy="401.0" r="1.3"/>
<circle cx="244.9" cy="400.2" r="1.3"/>
<circle cx="246.8" cy="400.5" r="1.3"/>
<circle cx="248.0" cy="400.5" r="1.3"/>
<circle cx="240.9" cy="402.3" r="1.3"/>
<circle cx="242.7" cy="401.7" r="1.3"/>
<circle cx="243.6" cy="402.3" r="1.3"/>
<circle cx="245.7" cy="401.9" r="1.3"/>
<circle cx="246.5" cy="401.9" r="1.3"/>
<circle cx="248.2" cy="401.9" r="1.3"/>
</g>
<g fill="#ffbf00">
<circle cx="232.8" cy="357.9" r="1.6"/>
<circle cx="214.2" cy="363.8" r="1.6"/>
<circle cx="209.1" cy="369.1" r="1.6"/>
<circle cx="212.3" cy="374.3" r="1.6"/>
<circle cx="230" cy="363.4" r="1.6"/>
<circle cx="228.9" cy="365.1" r="1.6"/>
<circle cx="224.3" cy="369.3" r="1.6"/>
<circle cx="226.4" cy="369.3" r="1.6"/>
<circle cx="230.6" cy="369.7" r="1.6"/>
<circle cx="222.2" cy="372.4" r="1.6"/>
<circle cx="228.1" cy="375.2" r="1.6"/>
<circle cx="230.6" cy="375.6" r="1.6"/>
<circle cx="228.9" cy="377.7" r="1.6"/>
<circle cx="231.7" cy="378.1" r="1.6"/>
<circle cx="218" cy="380.7" r="1.6"/>
<circle cx="214.4" cy="383.4" r="1.6"/>
<circle cx="209.1" cy="384.7" r="1.6"/>
<circle cx="207" cy="385.9" r="1.6"/>
<circle cx="216.9" cy="387.2" r="1.6"/>
<circle cx="217.5" cy="388.7" r="1.6"/>
<circle cx="231.7" cy="386.1" r="1.6"/>
<circle cx="228.9" cy="387.8" r="1.6"/>
<circle cx="222.2" cy="391.4" r="1.6"/>
<circle cx="221.1" cy="393.1" r="1.6"/>
<circle cx="232.7" cy="390.8" r="1.6"/>
<circle cx="230.6" cy="392.9" r="1.6"/>
<circle cx="230.2" cy="394.2" r="1.6"/>
<circle cx="232.7" cy="397.7" r="1.6"/>
<circle cx="232.7" cy="401.3" r="1.6"/>
<circle cx="259.4" cy="357.1" r="1.6"/>
<circle cx="257.3" cy="360.2" r="1.6"/>
<circle cx="256.9" cy="363.4" r="1.6"/>
<circle cx="260.5" cy="365.1" r="1.6"/>
<circle cx="259" cy="366.8" r="1.6"/>
<circle cx="257.3" cy="368.2" r="1.6"/>
<circle cx="256.9" cy="375.2" r="1.6"/>
<circle cx="277.6" cy="372.5" r="1.6"/>
<circle cx="276.3" cy="376.3" r="1.6"/>
<circle cx="275.4" cy="381.5" r="1.6"/>
<circle cx="270.2" cy="381.5" r="1.6"/>
<circle cx="265.3" cy="381.5" r="1.6"/>
<circle cx="260.5" cy="382.4" r="1.6"/>
<circle cx="258.6" cy="383" r="1.6"/>
<circle cx="256.9" cy="386.6" r="1.6"/>
</g>
<g fill="#2f5fc4">
<circle cx="214.4" cy="270.7" r="1.45"/>
<circle cx="217.9" cy="292.1" r="1.45"/>
<circle cx="230.6" cy="315.7" r="1.45"/>
<circle cx="222.9" cy="331" r="1.45"/>
<circle cx="228" cy="332.9" r="1.45"/>
<circle cx="226.8" cy="345.7" r="1.45"/>
<circle cx="233.3" cy="346.5" r="1.45"/>
<circle cx="228.9" cy="352.8" r="1.45"/>
<circle cx="230.2" cy="352.8" r="1.45"/>
</g>
<g fill="#00b050">
<circle cx="237.4" cy="300.8" r="1.45"/>
<circle cx="238.7" cy="332.9" r="1.45"/>
<circle cx="238.8" cy="348.6" r="1.45"/>
<circle cx="237.1" cy="355.8" r="1.45"/>
<circle cx="250.1" cy="338.7" r="1.45"/>
<circle cx="248.9" cy="342.5" r="1.45"/>
<circle cx="248.9" cy="348.8" r="1.45"/>
<circle cx="251.6" cy="347.2" r="1.45"/>
<circle cx="253.3" cy="346.5" r="1.45"/>
<circle cx="250.1" cy="352.4" r="1.45"/>
<circle cx="252.7" cy="352.4" r="1.45"/>
<circle cx="255.2" cy="352" r="1.45"/>
</g>
<g fill="#ff0000">
<circle cx="272.3" cy="313.6" r="1.45"/>
<circle cx="258.6" cy="340.2" r="1.45"/>
<circle cx="257.5" cy="350.9" r="1.45"/>
</g>
<rect x="207" y="268.4" width="26.6" height="89.3" rx="3" ry="3" fill="none" stroke="#4a6fcc" stroke-width="0.8" stroke-dasharray="0.8 0.5"/>
<rect x="255.3" y="308.2" width="20.1" height="49.5" rx="3" ry="3" fill="none" stroke="#ff4a4a" stroke-width="0.8" stroke-dasharray="0.8 0.5"/>
<rect x="188.3" y="301.9" width="39.7" height="11.2" fill="#97aede" stroke="#8c8c8c" stroke-width="0.6"/>
<text x="207.9" y="309.8" font-size="6.7" fill="#3c3c3c" text-anchor="middle">9 spots</text>
<rect x="266" y="320.3" width="28.6" height="11.1" fill="#ff9292" stroke="#8c8c8c" stroke-width="0.6"/>
<text x="280.3" y="328.2" font-size="6.7" fill="#4a3a3a" text-anchor="middle">3 spots</text>
<text x="268.6" y="342.8" font-size="6.2" fill="#333">p-value&lt;0.05</text>
<g fill="#7f7f7f">
<path d="M223.4 263.6L227.4 260.1V262H234.4V265.2H227.4V267.1Z"/>
<path d="M267.6 263.8L263.6 260.3V262.2H256.2V265.4H263.6V267.3Z"/>
<path d="M286.8 346.1L290.6 350.6H288.8V357.1H284.8V350.6H283Z"/>
</g>
</g></svg>
<div class="abs" style="left:124px;top:421px;width:200px;height:46px;background:#fff"></div>
<div class="t" style="left:129.33px;top:426.06px;font-size:9.5px;color:#111;transform:scaleX(1.0166);">Volcano plot for difference detection</div>
<div class="t" style="left:129.31px;top:438.36px;font-size:9.5px;color:#111;transform:scaleX(1.0301);">X: fold change</div>
<div class="t" style="left:129.40px;top:450.36px;font-size:9.5px;color:#111;transform:scaleX(1.0810);">Y: P value</div>
<svg class="abs" style="left:0;top:0" width="681" height="474" viewBox="0 0 681 474"><rect x="408" y="222.1" width="227" height="221.6" fill="#fff" stroke="#d0d0d0" stroke-width="1.1"/></svg>
<div class="abs" style="left:455px;top:407px;width:185px;height:20.5px;background:#fff"></div>
<div class="t" style="left:510.10px;top:237.32px;font-size:13.8px;font-weight:bold;transform:scaleX(1.0082);">Candidate</div>
<div class="t" style="left:509.50px;top:256.02px;font-size:13.8px;font-weight:bold;transform:scaleX(1.0220);">Discovery</div>
<svg class="abs" style="left:0;top:0" width="681" height="474" viewBox="0 0 681 474">
<defs><filter id="cb" x="-5%" y="-5%" width="110%" height="110%"><feGaussianBlur stdDeviation="0.4"/></filter></defs>
<g filter="url(#cb)">
<path d="M486.5 255.6V396.5M479.8 396.5H592" stroke="#2a2a2a" stroke-width="1.7" fill="none"/>
<path d="M479.8 396.5H486.5M479.8 368.4H486.5M479.8 340.4H486.5M479.8 312.4H486.5M479.8 284.3H486.5M479.8 256.2H486.5M516.4 396.5V402.2M560.4 396.5V402.2" stroke="#2a2a2a" stroke-width="1.2" fill="none"/>
<path d="M501 325.3H531.6M546.8 368.9H576.2" stroke="#333" stroke-width="1.1" fill="none"/>
<path d="M509 319.7H523.6M509 329.6H523.6M516.3 319.7V329.6" stroke="#777" stroke-width="0.9" fill="none"/>
<g fill="#0a0a0a">
<circle cx="516.1" cy="287" r="2.25"/>
<circle cx="512" cy="310.7" r="2.25"/>
<circle cx="520.5" cy="309" r="2.25"/>
<circle cx="528.7" cy="310.5" r="2.25"/>
<circle cx="503.5" cy="325.3" r="2.25"/>
<circle cx="512" cy="323.3" r="2.25"/>
<circle cx="520.5" cy="321.2" r="2.25"/>
<circle cx="528.7" cy="323.6" r="2.25"/>
<circle cx="503.5" cy="338.1" r="2.25"/>
<circle cx="512" cy="340.3" r="2.25"/>
<circle cx="520.5" cy="335.9" r="2.25"/>
<circle cx="516.1" cy="347.6" r="2.25"/>
<circle cx="516.1" cy="352.9" r="2.25"/>
<circle cx="548.6" cy="368.9" r="2.15"/>
<circle cx="552" cy="367.7" r="2.15"/>
<circle cx="555.2" cy="366.5" r="2.15"/>
<circle cx="557.1" cy="369.4" r="2.15"/>
<circle cx="560" cy="368.2" r="2.15"/>
<circle cx="562.9" cy="366.2" r="2.15"/>
<circle cx="564.8" cy="369.4" r="2.15"/>
<circle cx="567.8" cy="368.9" r="2.15"/>
<circle cx="570.9" cy="369.4" r="2.15"/>
<circle cx="574.3" cy="368.9" r="2.15"/>
<circle cx="559.5" cy="375.9" r="2.15"/>
</g></g></svg>
<div class="t" style="left:470.37px;top:392.09px;font-size:10.4px;font-family:'Liberation Sans',sans-serif;font-weight:bold;color:#3a3a3a;transform:scaleX(1.2753);filter:blur(.3px);">0</div>
<div class="t" style="left:438.99px;top:364.04px;font-size:10.4px;font-family:'Liberation Sans',sans-serif;font-weight:bold;color:#3a3a3a;transform:scaleX(1.1149);filter:blur(.3px);">200000</div>
<div class="t" style="left:439.23px;top:335.99px;font-size:10.4px;font-family:'Liberation Sans',sans-serif;font-weight:bold;color:#3a3a3a;transform:scaleX(1.1081);filter:blur(.3px);">400000</div>
<div class="t" style="left:438.96px;top:307.94px;font-size:10.4px;font-family:'Liberation Sans',sans-serif;font-weight:bold;color:#3a3a3a;transform:scaleX(1.1158);filter:blur(.3px);">600000</div>
<div class="t" style="left:439.02px;top:279.89px;font-size:10.4px;font-family:'Liberation Sans',sans-serif;font-weight:bold;color:#3a3a3a;transform:scaleX(1.1141);filter:blur(.3px);">800000</div>
<div class="t" style="left:432.37px;top:251.84px;font-size:10.4px;font-family:'Liberation Sans',sans-serif;font-weight:bold;color:#3a3a3a;transform:scaleX(1.1188);filter:blur(.3px);">1000000</div>
<div class="t" style="left:462.19px;top:412.38px;font-size:9.6px;color:#111;filter:blur(.25px);">With Symptor</div>
<div class="t" style="left:536.88px;top:412.38px;font-size:9.6px;color:#111;transform:scaleX(1.0219);filter:blur(.25px);">Without Symptoms</div>
</body></html>
